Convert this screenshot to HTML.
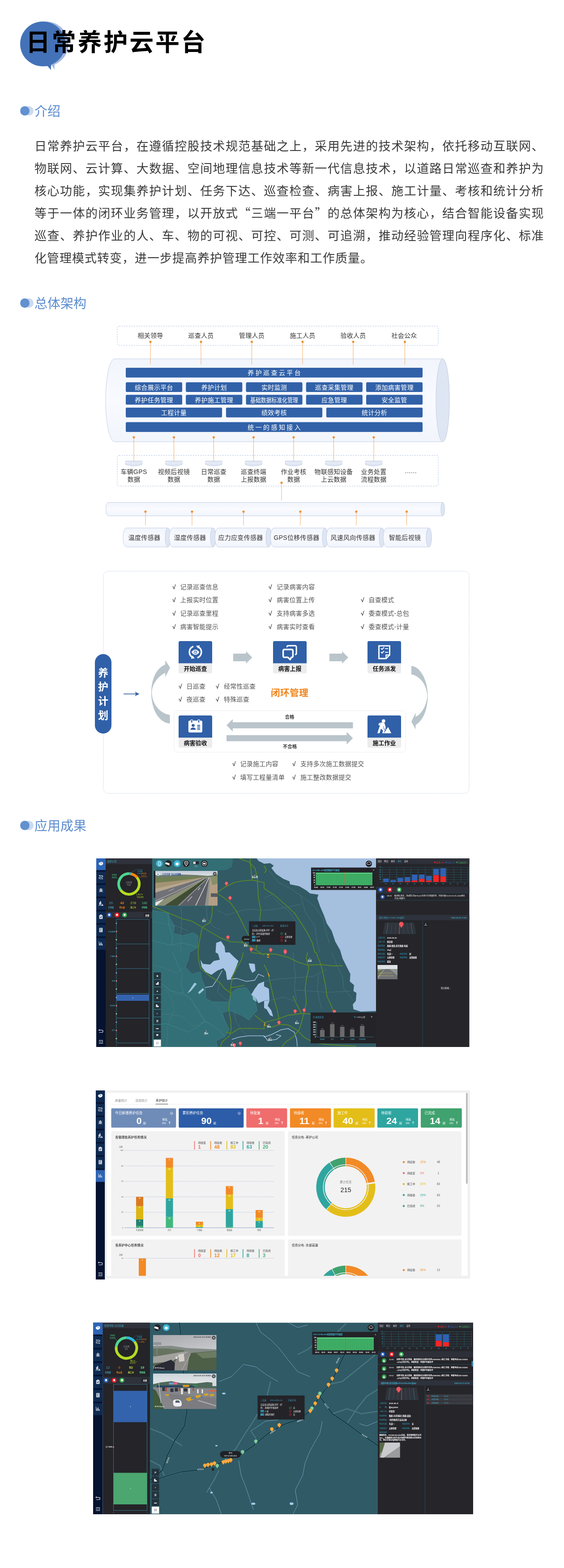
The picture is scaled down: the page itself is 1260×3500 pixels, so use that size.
<!DOCTYPE html>
<html lang="zh-CN">
<head>
<meta charset="utf-8">
<title>日常养护云平台</title>
<style>
*{box-sizing:border-box;margin:0;padding:0}
html,body{width:1260px;height:3500px;background:#fff;overflow:hidden}
body{position:relative;font-family:"Liberation Sans","Noto Sans CJK SC",sans-serif;color:#333}
svg{position:absolute;overflow:visible;will-change:transform}
#title,.sec,#intro{will-change:transform}
svg text{font-family:"Liberation Sans","Noto Sans CJK SC",sans-serif}
.abs{position:absolute}
#title{position:absolute;left:58px;top:55px;font-size:54px;line-height:80px;font-weight:700;color:#000;letter-spacing:3.8px;white-space:nowrap}
.sec{position:absolute;left:77px;font-size:29px;font-weight:400;line-height:40px;color:#5c8ccf;white-space:nowrap}
.sec i{position:absolute;left:-32px;top:8px;width:21px;height:21px;border-radius:50%;background:#6391cf}
.sec b{position:absolute;left:-23px;top:8px;width:21px;height:21px;border-radius:50%;background:#cbdaef}
.q{font-family:"Noto Sans CJK SC",sans-serif;line-height:0}
#intro{position:absolute;left:77px;top:301.5px;width:1138.4px;font-size:27px;letter-spacing:1px;line-height:50px;color:#3a3a3a;text-align:justify;font-weight:400}
</style>
</head>
<body>
<svg style="left:0;top:0" width="200" height="200" viewBox="0 0 200 200">
  <ellipse cx="102.5" cy="98" rx="50.5" ry="50" fill="#a3b9e0"/>
  <polygon points="114,143 122,141 121.6,155.5" fill="#a3b9e0"/>
  <ellipse cx="95.5" cy="98" rx="50.5" ry="50" fill="#4472b8"/>
  <polygon points="105,146 114,143 113.8,156.2" fill="#4472b8"/>
</svg>
<h1 id="title">日常养护云平台</h1>

<h2 class="sec" style="top:228.5px"><b></b><i></i>介绍</h2>
<p id="intro">日常养护云平台，在遵循控股技术规范基础之上，采用先进的技术架构，依托移动互联网、物联网、云计算、大数据、空间地理信息技术等新一代信息技术，以道路日常巡查和养护为核心功能，实现集养护计划、任务下达、巡查检查、病害上报、施工计量、考核和统计分析等于一体的闭环业务管理，以开放式<span class="q">“</span>三端一平台<span class="q">”</span>的总体架构为核心，结合智能设备实现巡查、养护作业的人、车、物的可视、可控、可测、可追溯，推动经验管理向程序化、标准化管理模式转变，进一步提高养护管理工作效率和工作质量。</p>

<h2 class="sec" style="top:657.5px"><b></b><i></i>总体架构</h2>
<h2 class="sec" style="top:1823.5px"><b></b><i></i>应用成果</h2>

<svg style="left:0;top:700px" width="1260" height="540" viewBox="0 700 1260 540">
<defs><linearGradient id="cg" x1="0" y1="0" x2="0" y2="1"><stop offset="0" stop-color="#f1f5fc"/><stop offset="0.5" stop-color="#f8faff"/><stop offset="1" stop-color="#f1f5fc"/></linearGradient></defs>
<rect x="262" y="728" width="717" height="43" rx="4" fill="#fff" stroke="#aebfe0" stroke-width="1" stroke-dasharray="3 2.5"/>
<path d="M256 801 H989 A15 92.5 0 0 1 989 986 H256 A20 92.5 0 0 1 256 801 Z" fill="url(#cg)" stroke="#c3cee4" stroke-width="1"/>
<ellipse cx="989" cy="893.5" rx="15" ry="92.5" fill="#dfe6f3" stroke="#c3cee4" stroke-width="1"/>
<text x="336" y="753.6" font-size="14" fill="#333" text-anchor="middle" letter-spacing="0.3" font-weight="400" >相关领导</text>
<line x1="336" y1="763" x2="336" y2="813.5" stroke="#f3ab68" stroke-width="1"/>
<circle cx="336" cy="763" r="2.6" fill="#ee9136"/>
<text x="449" y="753.6" font-size="14" fill="#333" text-anchor="middle" letter-spacing="0.3" font-weight="400" >巡查人员</text>
<line x1="449" y1="763" x2="449" y2="813.5" stroke="#f3ab68" stroke-width="1"/>
<circle cx="449" cy="763" r="2.6" fill="#ee9136"/>
<text x="562.5" y="753.6" font-size="14" fill="#333" text-anchor="middle" letter-spacing="0.3" font-weight="400" >管理人员</text>
<line x1="562.5" y1="763" x2="562.5" y2="813.5" stroke="#f3ab68" stroke-width="1"/>
<circle cx="562.5" cy="763" r="2.6" fill="#ee9136"/>
<text x="676" y="753.6" font-size="14" fill="#333" text-anchor="middle" letter-spacing="0.3" font-weight="400" >施工人员</text>
<line x1="676" y1="763" x2="676" y2="813.5" stroke="#f3ab68" stroke-width="1"/>
<circle cx="676" cy="763" r="2.6" fill="#ee9136"/>
<text x="789" y="753.6" font-size="14" fill="#333" text-anchor="middle" letter-spacing="0.3" font-weight="400" >验收人员</text>
<line x1="789" y1="763" x2="789" y2="813.5" stroke="#f3ab68" stroke-width="1"/>
<circle cx="789" cy="763" r="2.6" fill="#ee9136"/>
<text x="903" y="753.6" font-size="14" fill="#333" text-anchor="middle" letter-spacing="0.3" font-weight="400" >社会公众</text>
<line x1="904.5" y1="763" x2="904.5" y2="813.5" stroke="#f3ab68" stroke-width="1"/>
<circle cx="904.5" cy="763" r="2.6" fill="#ee9136"/>
<rect x="280.4" y="820.3" width="664.3" height="22.9" rx="3.2" fill="#3161a8" stroke="#fff" stroke-width="1"/>
<text x="614.2" y="837.2" font-size="14" fill="#fff" text-anchor="middle" letter-spacing="3.4" font-weight="400" >养护巡查云平台</text>
<rect x="280.4" y="852.8" width="127.2" height="22.7" rx="3.2" fill="#3161a8" stroke="#fff" stroke-width="1"/>
<text x="343.95" y="869.6" font-size="14" fill="#fff" text-anchor="middle" letter-spacing="0.3" font-weight="400" >综合展示平台</text>
<rect x="280.4" y="880.8" width="127.2" height="23.0" rx="3.2" fill="#3161a8" stroke="#fff" stroke-width="1"/>
<text x="343.95" y="897.75" font-size="14" fill="#fff" text-anchor="middle" letter-spacing="0.3" font-weight="400" >养护任务管理</text>
<rect x="414.7" y="852.8" width="127.2" height="22.7" rx="3.2" fill="#3161a8" stroke="#fff" stroke-width="1"/>
<text x="478.25" y="869.6" font-size="14" fill="#fff" text-anchor="middle" letter-spacing="0.3" font-weight="400" >养护计划</text>
<rect x="414.7" y="880.8" width="127.2" height="23.0" rx="3.2" fill="#3161a8" stroke="#fff" stroke-width="1"/>
<text x="478.25" y="897.75" font-size="14" fill="#fff" text-anchor="middle" letter-spacing="0.3" font-weight="400" >养护施工管理</text>
<rect x="549.0" y="852.8" width="127.1" height="22.7" rx="3.2" fill="#3161a8" stroke="#fff" stroke-width="1"/>
<text x="612.5" y="869.6" font-size="14" fill="#fff" text-anchor="middle" letter-spacing="0.3" font-weight="400" >实时监测</text>
<rect x="549.0" y="880.8" width="127.1" height="23.0" rx="3.2" fill="#3161a8" stroke="#fff" stroke-width="1"/>
<text x="612.5" y="897.75" font-size="14" fill="#fff" text-anchor="middle" letter-spacing="0" font-weight="400" textLength="107" lengthAdjust="spacingAndGlyphs">基础数据标准化管理</text>
<rect x="683.2" y="852.8" width="127.2" height="22.7" rx="3.2" fill="#3161a8" stroke="#fff" stroke-width="1"/>
<text x="746.75" y="869.6" font-size="14" fill="#fff" text-anchor="middle" letter-spacing="0.3" font-weight="400" >巡查采集管理</text>
<rect x="683.2" y="880.8" width="127.2" height="23.0" rx="3.2" fill="#3161a8" stroke="#fff" stroke-width="1"/>
<text x="746.75" y="897.75" font-size="14" fill="#fff" text-anchor="middle" letter-spacing="0.3" font-weight="400" >应急管理</text>
<rect x="817.5" y="852.8" width="127.2" height="22.7" rx="3.2" fill="#3161a8" stroke="#fff" stroke-width="1"/>
<text x="881.05" y="869.6" font-size="14" fill="#fff" text-anchor="middle" letter-spacing="0.3" font-weight="400" >添加病害管理</text>
<rect x="817.5" y="880.8" width="127.2" height="23.0" rx="3.2" fill="#3161a8" stroke="#fff" stroke-width="1"/>
<text x="881.05" y="897.75" font-size="14" fill="#fff" text-anchor="middle" letter-spacing="0.3" font-weight="400" >安全监管</text>
<rect x="280.4" y="909.3" width="216.3" height="22.9" rx="3.2" fill="#3161a8" stroke="#fff" stroke-width="1"/>
<text x="388.5" y="926.2" font-size="14" fill="#fff" text-anchor="middle" letter-spacing="0.3" font-weight="400" >工程计量</text>
<rect x="504.4" y="909.3" width="216.3" height="22.9" rx="3.2" fill="#3161a8" stroke="#fff" stroke-width="1"/>
<text x="612.5" y="926.2" font-size="14" fill="#fff" text-anchor="middle" letter-spacing="0.3" font-weight="400" >绩效考核</text>
<rect x="728.4" y="909.3" width="216.3" height="22.9" rx="3.2" fill="#3161a8" stroke="#fff" stroke-width="1"/>
<text x="836.5" y="926.2" font-size="14" fill="#fff" text-anchor="middle" letter-spacing="0.3" font-weight="400" >统计分析</text>
<rect x="280.4" y="941.8" width="664.3" height="23.0" rx="3.2" fill="#3161a8" stroke="#fff" stroke-width="1"/>
<text x="614.2" y="958.75" font-size="14" fill="#fff" text-anchor="middle" letter-spacing="3.4" font-weight="400" >统一的感知接入</text>
<rect x="262" y="1016.5" width="717" height="68.5" rx="4" fill="#fff" stroke="#aebfe0" stroke-width="1" stroke-dasharray="3 2.5"/>
<line x1="299" y1="976" x2="299" y2="1029" stroke="#f3ab68" stroke-width="1"/>
<circle cx="299" cy="976" r="2.6" fill="#ee9136"/>
<path d="M280.5 1029 H317.5 V1037 Q299 1043.5 280.5 1037 Z" fill="#dfe6f3" stroke="#b9c7e0" stroke-width="0.8"/>
<path d="M280.5 1031.5 Q299 1037 317.5 1031.5" fill="none" stroke="#f4f7fc" stroke-width="1"/>
<text x="299" y="1057.6" font-size="14" fill="#333" text-anchor="middle" letter-spacing="0.3" font-weight="400" >车辆GPS</text>
<text x="299" y="1074.8" font-size="14" fill="#333" text-anchor="middle" letter-spacing="0.3" font-weight="400" >数据</text>
<line x1="388.5" y1="976" x2="388.5" y2="1029" stroke="#f3ab68" stroke-width="1"/>
<circle cx="388.5" cy="976" r="2.6" fill="#ee9136"/>
<path d="M370.0 1029 H407.0 V1037 Q388.5 1043.5 370.0 1037 Z" fill="#dfe6f3" stroke="#b9c7e0" stroke-width="0.8"/>
<path d="M370.0 1031.5 Q388.5 1037 407.0 1031.5" fill="none" stroke="#f4f7fc" stroke-width="1"/>
<text x="388.5" y="1057.6" font-size="14" fill="#333" text-anchor="middle" letter-spacing="0.3" font-weight="400" >视频后视镜</text>
<text x="388.5" y="1074.8" font-size="14" fill="#333" text-anchor="middle" letter-spacing="0.3" font-weight="400" >数据</text>
<line x1="477.5" y1="976" x2="477.5" y2="1029" stroke="#f3ab68" stroke-width="1"/>
<circle cx="477.5" cy="976" r="2.6" fill="#ee9136"/>
<path d="M459.0 1029 H496.0 V1037 Q477.5 1043.5 459.0 1037 Z" fill="#dfe6f3" stroke="#b9c7e0" stroke-width="0.8"/>
<path d="M459.0 1031.5 Q477.5 1037 496.0 1031.5" fill="none" stroke="#f4f7fc" stroke-width="1"/>
<text x="477.5" y="1057.6" font-size="14" fill="#333" text-anchor="middle" letter-spacing="0.3" font-weight="400" >日常巡查</text>
<text x="477.5" y="1074.8" font-size="14" fill="#333" text-anchor="middle" letter-spacing="0.3" font-weight="400" >数据</text>
<line x1="566.5" y1="976" x2="566.5" y2="1029" stroke="#f3ab68" stroke-width="1"/>
<circle cx="566.5" cy="976" r="2.6" fill="#ee9136"/>
<path d="M548.0 1029 H585.0 V1037 Q566.5 1043.5 548.0 1037 Z" fill="#dfe6f3" stroke="#b9c7e0" stroke-width="0.8"/>
<path d="M548.0 1031.5 Q566.5 1037 585.0 1031.5" fill="none" stroke="#f4f7fc" stroke-width="1"/>
<text x="566.5" y="1057.6" font-size="14" fill="#333" text-anchor="middle" letter-spacing="0.3" font-weight="400" >巡查终端</text>
<text x="566.5" y="1074.8" font-size="14" fill="#333" text-anchor="middle" letter-spacing="0.3" font-weight="400" >上报数据</text>
<line x1="656" y1="976" x2="656" y2="1029" stroke="#f3ab68" stroke-width="1"/>
<circle cx="656" cy="976" r="2.6" fill="#ee9136"/>
<path d="M637.5 1029 H674.5 V1037 Q656 1043.5 637.5 1037 Z" fill="#dfe6f3" stroke="#b9c7e0" stroke-width="0.8"/>
<path d="M637.5 1031.5 Q656 1037 674.5 1031.5" fill="none" stroke="#f4f7fc" stroke-width="1"/>
<text x="656" y="1057.6" font-size="14" fill="#333" text-anchor="middle" letter-spacing="0.3" font-weight="400" >作业考核</text>
<text x="656" y="1074.8" font-size="14" fill="#333" text-anchor="middle" letter-spacing="0.3" font-weight="400" >数据</text>
<line x1="745.5" y1="976" x2="745.5" y2="1029" stroke="#f3ab68" stroke-width="1"/>
<circle cx="745.5" cy="976" r="2.6" fill="#ee9136"/>
<path d="M727.0 1029 H764.0 V1037 Q745.5 1043.5 727.0 1037 Z" fill="#dfe6f3" stroke="#b9c7e0" stroke-width="0.8"/>
<path d="M727.0 1031.5 Q745.5 1037 764.0 1031.5" fill="none" stroke="#f4f7fc" stroke-width="1"/>
<text x="745.5" y="1057.6" font-size="14" fill="#333" text-anchor="middle" letter-spacing="0.3" font-weight="400" >物联感知设备</text>
<text x="745.5" y="1074.8" font-size="14" fill="#333" text-anchor="middle" letter-spacing="0.3" font-weight="400" >上云数据</text>
<line x1="835" y1="976" x2="835" y2="1029" stroke="#f3ab68" stroke-width="1"/>
<circle cx="835" cy="976" r="2.6" fill="#ee9136"/>
<path d="M816.5 1029 H853.5 V1037 Q835 1043.5 816.5 1037 Z" fill="#dfe6f3" stroke="#b9c7e0" stroke-width="0.8"/>
<path d="M816.5 1031.5 Q835 1037 853.5 1031.5" fill="none" stroke="#f4f7fc" stroke-width="1"/>
<text x="835" y="1057.6" font-size="14" fill="#333" text-anchor="middle" letter-spacing="0.3" font-weight="400" >业务处置</text>
<text x="835" y="1074.8" font-size="14" fill="#333" text-anchor="middle" letter-spacing="0.3" font-weight="400" >流程数据</text>
<text x="918" y="1056" font-size="14" fill="#333" text-anchor="middle" letter-spacing="0.5" font-weight="400" >......</text>
<line x1="629" y1="1077.5" x2="629" y2="1117.5" stroke="#f3ab68" stroke-width="1"/>
<circle cx="629" cy="1077.5" r="2.6" fill="#ee9136"/>
<path d="M242 1121.5 H989 A4 15 0 0 1 989 1151.5 H242 A5.5 15 0 0 1 242 1121.5 Z" fill="url(#cg)" stroke="#c3cee4" stroke-width="1"/>
<ellipse cx="989" cy="1136.5" rx="4" ry="15" fill="#dfe6f3" stroke="#c3cee4" stroke-width="1"/>
<line x1="325" y1="1142" x2="325" y2="1172.5" stroke="#f3ab68" stroke-width="1"/>
<circle cx="325" cy="1142" r="2.6" fill="#ee9136"/>
<line x1="429" y1="1142" x2="429" y2="1172.5" stroke="#f3ab68" stroke-width="1"/>
<circle cx="429" cy="1142" r="2.6" fill="#ee9136"/>
<line x1="544" y1="1142" x2="544" y2="1172.5" stroke="#f3ab68" stroke-width="1"/>
<circle cx="544" cy="1142" r="2.6" fill="#ee9136"/>
<line x1="671" y1="1142" x2="671" y2="1172.5" stroke="#f3ab68" stroke-width="1"/>
<circle cx="671" cy="1142" r="2.6" fill="#ee9136"/>
<line x1="796" y1="1142" x2="796" y2="1172.5" stroke="#f3ab68" stroke-width="1"/>
<circle cx="796" cy="1142" r="2.6" fill="#ee9136"/>
<line x1="908.5" y1="1142" x2="908.5" y2="1172.5" stroke="#f3ab68" stroke-width="1"/>
<circle cx="908.5" cy="1142" r="2.6" fill="#ee9136"/>
<path d="M283 1178.5 H375 A6 21.25 0 0 1 375 1221 H283 A8 21.25 0 0 1 283 1178.5 Z" fill="url(#cg)" stroke="#c3cee4" stroke-width="1"/>
<ellipse cx="375" cy="1199.75" rx="6" ry="21.25" fill="#dfe6f3" stroke="#c3cee4" stroke-width="1"/>
<text x="322.5" y="1204.8" font-size="14" fill="#333" text-anchor="middle" letter-spacing="0.3" font-weight="400" >温度传感器</text>
<path d="M386 1178.5 H476 A6 21.25 0 0 1 476 1221 H386 A8 21.25 0 0 1 386 1178.5 Z" fill="url(#cg)" stroke="#c3cee4" stroke-width="1"/>
<ellipse cx="476" cy="1199.75" rx="6" ry="21.25" fill="#dfe6f3" stroke="#c3cee4" stroke-width="1"/>
<text x="424.5" y="1204.8" font-size="14" fill="#333" text-anchor="middle" letter-spacing="0.3" font-weight="400" >湿度传感器</text>
<path d="M488 1178.5 H600 A6 21.25 0 0 1 600 1221 H488 A8 21.25 0 0 1 488 1178.5 Z" fill="url(#cg)" stroke="#c3cee4" stroke-width="1"/>
<ellipse cx="600" cy="1199.75" rx="6" ry="21.25" fill="#dfe6f3" stroke="#c3cee4" stroke-width="1"/>
<text x="537.5" y="1204.8" font-size="14" fill="#333" text-anchor="middle" letter-spacing="0.3" font-weight="400" >应力应变传感器</text>
<path d="M612 1178.5 H726 A6 21.25 0 0 1 726 1221 H612 A8 21.25 0 0 1 612 1178.5 Z" fill="url(#cg)" stroke="#c3cee4" stroke-width="1"/>
<ellipse cx="726" cy="1199.75" rx="6" ry="21.25" fill="#dfe6f3" stroke="#c3cee4" stroke-width="1"/>
<text x="662.5" y="1204.8" font-size="14" fill="#333" text-anchor="middle" letter-spacing="0.3" font-weight="400" >GPS位移传感器</text>
<path d="M737 1178.5 H853 A6 21.25 0 0 1 853 1221 H737 A8 21.25 0 0 1 737 1178.5 Z" fill="url(#cg)" stroke="#c3cee4" stroke-width="1"/>
<ellipse cx="853" cy="1199.75" rx="6" ry="21.25" fill="#dfe6f3" stroke="#c3cee4" stroke-width="1"/>
<text x="788.5" y="1204.8" font-size="14" fill="#333" text-anchor="middle" letter-spacing="0.3" font-weight="400" >风速风向传感器</text>
<path d="M864 1178.5 H958 A6 21.25 0 0 1 958 1221 H864 A8 21.25 0 0 1 864 1178.5 Z" fill="url(#cg)" stroke="#c3cee4" stroke-width="1"/>
<ellipse cx="958" cy="1199.75" rx="6" ry="21.25" fill="#dfe6f3" stroke="#c3cee4" stroke-width="1"/>
<text x="904.5" y="1204.8" font-size="14" fill="#333" text-anchor="middle" letter-spacing="0.3" font-weight="400" >智能后视镜</text>
</svg>

<svg style="left:0;top:1250px" width="1260" height="540" viewBox="0 1250 1260 540">
<rect x="231" y="1275" width="817" height="496" rx="11" fill="#fff" stroke="#a9bcdc" stroke-width="1" stroke-dasharray="1.5 2"/>
<text x="389" y="1314.5" font-size="13.5" fill="#444" text-anchor="middle" letter-spacing="0" font-weight="700" >√</text>
<text x="402.5" y="1314.5" font-size="14" fill="#555" text-anchor="start" letter-spacing="0.25" font-weight="400" >记录巡查信息</text>
<text x="389" y="1344.3" font-size="13.5" fill="#444" text-anchor="middle" letter-spacing="0" font-weight="700" >√</text>
<text x="402.5" y="1344.3" font-size="14" fill="#555" text-anchor="start" letter-spacing="0.25" font-weight="400" >上报实时位置</text>
<text x="389" y="1374.1" font-size="13.5" fill="#444" text-anchor="middle" letter-spacing="0" font-weight="700" >√</text>
<text x="402.5" y="1374.1" font-size="14" fill="#555" text-anchor="start" letter-spacing="0.25" font-weight="400" >记录巡查里程</text>
<text x="389" y="1403.9" font-size="13.5" fill="#444" text-anchor="middle" letter-spacing="0" font-weight="700" >√</text>
<text x="402.5" y="1403.9" font-size="14" fill="#555" text-anchor="start" letter-spacing="0.25" font-weight="400" >病害智能提示</text>
<text x="604" y="1314.5" font-size="13.5" fill="#444" text-anchor="middle" letter-spacing="0" font-weight="700" >√</text>
<text x="618" y="1314.5" font-size="14" fill="#555" text-anchor="start" letter-spacing="0.25" font-weight="400" >记录病害内容</text>
<text x="604" y="1344.3" font-size="13.5" fill="#444" text-anchor="middle" letter-spacing="0" font-weight="700" >√</text>
<text x="618" y="1344.3" font-size="14" fill="#555" text-anchor="start" letter-spacing="0.25" font-weight="400" >病害位置上传</text>
<text x="604" y="1374.1" font-size="13.5" fill="#444" text-anchor="middle" letter-spacing="0" font-weight="700" >√</text>
<text x="618" y="1374.1" font-size="14" fill="#555" text-anchor="start" letter-spacing="0.25" font-weight="400" >支持病害多选</text>
<text x="604" y="1403.9" font-size="13.5" fill="#444" text-anchor="middle" letter-spacing="0" font-weight="700" >√</text>
<text x="618" y="1403.9" font-size="14" fill="#555" text-anchor="start" letter-spacing="0.25" font-weight="400" >病害实时查看</text>
<text x="810" y="1344.3" font-size="13.5" fill="#444" text-anchor="middle" letter-spacing="0" font-weight="700" >√</text>
<text x="823.5" y="1344.3" font-size="14" fill="#555" text-anchor="start" letter-spacing="0.25" font-weight="400" >自查模式</text>
<text x="810" y="1374.1" font-size="13.5" fill="#444" text-anchor="middle" letter-spacing="0" font-weight="700" >√</text>
<text x="823.5" y="1374.1" font-size="14" fill="#555" text-anchor="start" letter-spacing="0.25" font-weight="400" >委查模式-总包</text>
<text x="810" y="1403.8999999999999" font-size="13.5" fill="#444" text-anchor="middle" letter-spacing="0" font-weight="700" >√</text>
<text x="823.5" y="1403.8999999999999" font-size="14" fill="#555" text-anchor="start" letter-spacing="0.25" font-weight="400" >委查模式-计量</text>
<text x="403" y="1536.5" font-size="13.5" fill="#444" text-anchor="middle" letter-spacing="0" font-weight="700" >√</text>
<text x="416.5" y="1536.5" font-size="14" fill="#555" text-anchor="start" letter-spacing="0.25" font-weight="400" >日巡查</text>
<text x="403" y="1566" font-size="13.5" fill="#444" text-anchor="middle" letter-spacing="0" font-weight="700" >√</text>
<text x="416.5" y="1566" font-size="14" fill="#555" text-anchor="start" letter-spacing="0.25" font-weight="400" >夜巡查</text>
<text x="486" y="1536.5" font-size="13.5" fill="#444" text-anchor="middle" letter-spacing="0" font-weight="700" >√</text>
<text x="500" y="1536.5" font-size="14" fill="#555" text-anchor="start" letter-spacing="0.25" font-weight="400" >经常性巡查</text>
<text x="486" y="1566" font-size="13.5" fill="#444" text-anchor="middle" letter-spacing="0" font-weight="700" >√</text>
<text x="500" y="1566" font-size="14" fill="#555" text-anchor="start" letter-spacing="0.25" font-weight="400" >特殊巡查</text>
<text x="523" y="1710" font-size="13.5" fill="#444" text-anchor="middle" letter-spacing="0" font-weight="700" >√</text>
<text x="536.5" y="1710" font-size="14" fill="#555" text-anchor="start" letter-spacing="0.25" font-weight="400" >记录施工内容</text>
<text x="523" y="1739.5" font-size="13.5" fill="#444" text-anchor="middle" letter-spacing="0" font-weight="700" >√</text>
<text x="536.5" y="1739.5" font-size="14" fill="#555" text-anchor="start" letter-spacing="0.25" font-weight="400" >填写工程量清单</text>
<text x="657" y="1710" font-size="13.5" fill="#444" text-anchor="middle" letter-spacing="0" font-weight="700" >√</text>
<text x="671" y="1710" font-size="14" fill="#555" text-anchor="start" letter-spacing="0.25" font-weight="400" >支持多次施工数据提交</text>
<text x="657" y="1739.5" font-size="13.5" fill="#444" text-anchor="middle" letter-spacing="0" font-weight="700" >√</text>
<text x="671" y="1739.5" font-size="14" fill="#555" text-anchor="start" letter-spacing="0.25" font-weight="400" >施工整改数据提交</text>
<rect x="389" y="1586.5" width="517" height="92.5" rx="8" fill="#fff" stroke="#cfd3d8" stroke-width="1" stroke-dasharray="1.5 2"/>
<rect x="399" y="1431" width="75" height="72" rx="3.5" fill="#ececec"/>
<path d="M399 1480.5 V1434.5 a3.5 3.5 0 0 1 3.5 -3.5 H470.5 a3.5 3.5 0 0 1 3.5 3.5 V1480.5 Z" fill="#3060a8"/>
<g transform="translate(436.5 1455.5)"><g fill="none" stroke="#fff" stroke-width="3.4"><path d="M-4.6 -12.6 A13.3 13.3 0 0 0 -7.4 11"/><path d="M4.6 12.6 A13.3 13.3 0 0 0 7.4 -11"/></g>
<path d="M-6.3 7.8 L-1.6 14 L-10 15 Z M6.3 -7.8 L1.6 -14 L10 -15 Z" fill="#fff"/>
<path d="M-8.9 0.3 Q0 -11.5 8.9 0.3 Q0 12 -8.9 0.3 Z" fill="#fff"/><circle cy="0.3" r="3.7" fill="#3060a8"/><circle cy="0.3" r="2.5" fill="#fff"/><circle cx="0.7" cy="-0.3" r="1" fill="#3060a8"/></g>
<text x="436.5" y="1496.7" font-size="13" fill="#111" text-anchor="middle" letter-spacing="0" font-weight="700" >开始巡查</text>
<rect x="610" y="1431" width="75" height="72" rx="3.5" fill="#ececec"/>
<path d="M610 1480.5 V1434.5 a3.5 3.5 0 0 1 3.5 -3.5 H681.5 a3.5 3.5 0 0 1 3.5 3.5 V1480.5 Z" fill="#3060a8"/>
<g transform="translate(647.5 1455.5)"><g fill="none" stroke="#fff" stroke-linejoin="round" stroke-linecap="round"><path d="M-6.3 -12 Q-6 -14.2 -3.5 -14.2 H11.6 a3 3 0 0 1 3 3 V3 Q14.6 5.3 12.6 5.4" stroke-width="3"/><path d="M-12 -5.800 H4 a2.900 2.900 0 0 1 2.900 2.900 V8.900 a2.900 2.900 0 0 1 -2.900 2.900 H3.300 L0.800 16.700 L-4.500 11.800 H-12 a2.900 2.900 0 0 1 -2.900 -2.900 V-2.900 a2.900 2.900 0 0 1 2.900 -2.900 Z" stroke-width="3.4"/></g></g>
<text x="647.5" y="1496.7" font-size="13" fill="#111" text-anchor="middle" letter-spacing="0" font-weight="700" >病害上报</text>
<rect x="821" y="1431" width="75" height="72" rx="3.5" fill="#ececec"/>
<path d="M821 1480.5 V1434.5 a3.5 3.5 0 0 1 3.5 -3.5 H892.5 a3.5 3.5 0 0 1 3.5 3.5 V1480.5 Z" fill="#3060a8"/>
<g transform="translate(858.5 1455.5)"><path d="M-12 -13.900 H12 V6.500 L3.800 14.500 H-12 Z" fill="none" stroke="#fff" stroke-width="2.900" stroke-linejoin="miter"/><path d="M4 14 V6.500 H12" fill="none" stroke="#fff" stroke-width="2.400"/>
<g stroke="#fff" stroke-width="2" fill="none"><path d="M-7.500 -8.500 l2.600 2.600 l4.400 -4.800 M-7.500 -0.300 l2.600 2.600 l4.400 -4.800 M1.800 -7.700 H8.400 M1.800 0.500 H8.400"/></g></g>
<text x="858.5" y="1496.7" font-size="13" fill="#111" text-anchor="middle" letter-spacing="0" font-weight="700" >任务派发</text>
<rect x="399" y="1597" width="75" height="72" rx="3.5" fill="#ececec"/>
<path d="M399 1646.5 V1600.5 a3.5 3.5 0 0 1 3.5 -3.5 H470.5 a3.5 3.5 0 0 1 3.5 3.5 V1646.5 Z" fill="#3060a8"/>
<g transform="translate(436.5 1621.5)"><rect x="-15.600" y="-13" width="31" height="26.600" rx="3" fill="#fff"/><rect x="-10" y="-14.800" width="3.800" height="6.600" rx="0.800" fill="#3060a8" stroke="#fff" stroke-width="1.200"/><rect x="5.600" y="-14.800" width="3.800" height="6.600" rx="0.800" fill="#3060a8" stroke="#fff" stroke-width="1.200"/>
<circle cx="-5" cy="-2.200" r="3.300" fill="#3060a8"/><path d="M-10.900 7.600 v-1 a5.800 4 0 0 1 11.600 0 v1 Z" fill="#3060a8"/><g stroke="#3060a8" stroke-width="1.800"><path d="M4 -2.500 H10.700 M4 0.700 H10.700 M4 3.800 H10.700 M4 6.900 H10.700"/></g></g>
<text x="436.5" y="1662.7" font-size="13" fill="#111" text-anchor="middle" letter-spacing="0" font-weight="700" >病害验收</text>
<rect x="821" y="1597" width="75" height="72" rx="3.5" fill="#ececec"/>
<path d="M821 1646.5 V1600.5 a3.5 3.5 0 0 1 3.5 -3.5 H892.5 a3.5 3.5 0 0 1 3.5 3.5 V1646.5 Z" fill="#3060a8"/>
<g transform="translate(858.5 1621.5)"><circle cx="-1.700" cy="-12.200" r="3.900" fill="#fff"/><path d="M-13.500 -4.500 L-10.500 -8 L-4 -9 L0.500 -7.500 L3.500 2.500 L1 4.500 L-2.300 -0.500 L-3.300 3.500 L1.300 7.800 L-0.800 15.200 H-4.500 L-2.800 9 L-7.500 5 L-10.500 15.200 H-15.500 L-11 1.500 L-9.500 -1.500 Z" fill="#fff"/><path d="M-0.800 15.200 L8.400 1.200 L15.700 15.200 Z" fill="#fff"/><path d="M-12 -4 L3.500 6.500" stroke="#fff" stroke-width="1.600"/><path d="M-9.500 -5.500 l2 -1.300 l-1 2.600 z" fill="#3060a8"/></g>
<text x="858.5" y="1662.7" font-size="13" fill="#111" text-anchor="middle" letter-spacing="0" font-weight="700" >施工作业</text>
<path d="M521 1459.0 H549.5 V1453.75 L563.5 1467.5 L549.5 1481.25 V1476.0 H521 Z" fill="#b9c4cb"/>
<path d="M736 1459.0 H764 V1453.75 L778 1467.5 L764 1481.25 V1476.0 H736 Z" fill="#b9c4cb"/>
<path d="M788.5 1612.25 H520 V1605.25 L506 1619 L520 1632.75 V1625.75 H788.5 Z" fill="#b9c4cb"/>
<path d="M506 1640.95 H774.5 V1633.95 L788.5 1647.7 L774.5 1661.45 V1654.45 H506 Z" fill="#b9c4cb"/>
<text x="647" y="1603.8" font-size="10.5" fill="#333" text-anchor="middle" letter-spacing="0" font-weight="700" >合格</text>
<text x="647.5" y="1669.8" font-size="10.5" fill="#333" text-anchor="middle" letter-spacing="0" font-weight="700" >不合格</text>
<text x="605" y="1553.5" font-size="20.5" fill="#f0841a" text-anchor="start" letter-spacing="0.6" font-weight="700" >闭环管理</text>
<rect x="212" y="1460" width="37" height="177.5" rx="18.5" fill="#3060a8"/>
<text x="230.5" y="1509.8" font-size="23" fill="#fff" text-anchor="middle" letter-spacing="0" font-weight="700" >养</text>
<text x="230.5" y="1541.3999999999999" font-size="23" fill="#fff" text-anchor="middle" letter-spacing="0" font-weight="700" >护</text>
<text x="230.5" y="1573.0" font-size="23" fill="#fff" text-anchor="middle" letter-spacing="0" font-weight="700" >计</text>
<text x="230.5" y="1604.6" font-size="23" fill="#fff" text-anchor="middle" letter-spacing="0" font-weight="700" >划</text>
<path d="M276 1549 H308" stroke="#3060a8" stroke-width="1.6" fill="none"/><path d="M311.500 1549 L301 1544 L304 1549 L301 1554 Z" fill="#3060a8"/>
<path d="M379.5 1615.3 C352 1612 338 1580 338 1546.3 C338 1515 350 1491 369.2 1483.3 L369.2 1473.8 L380 1490.2 L369.2 1511.3 L369.2 1501.8 C352 1510 339.5 1528 339.2 1546.3 C339.5 1566 352 1591 379.5 1596 Z" fill="#b9c4cb"/>
<path d="M919 1486.4 C938 1487 955.6 1518 955.6 1552 C955.6 1585 945 1608 928.5 1618.4 L928.5 1627.9 L919 1611 L928.5 1590.8 L928.5 1600.3 C945 1592 954 1570 954.5 1552 C953 1530 940 1509 919 1505.5 Z" fill="#b9c4cb"/>
</svg>

<svg style="left:0;top:1900px" width="1260" height="450" viewBox="0 1900 1260 450">
<defs><clipPath id="m1"><rect x="340" y="1916" width="500" height="421"/></clipPath><clipPath id="c1"><rect x="347" y="1944" width="139" height="77.6"/></clipPath></defs>
<rect x="340" y="1916" width="500" height="421" fill="#315a65"/>
<g clip-path="url(#m1)">
<polygon points="340.0,1916.0 520.7,1916.0 518.0,1934.9 507.2,1941.6 485.6,1943.0 485.6,2022.5 340.0,2022.5" fill="#336e75"/>
<polygon points="340.0,2032.0 356.2,2034.7 375.1,2037.4 380.5,2050.8 389.9,2067.0 387.2,2083.2 407.4,2088.6 431.7,2081.9 442.5,2088.6 441.1,2115.6 423.6,2126.1 420.9,2142.2 414.2,2158.4 429.0,2174.5 447.9,2169.1 450.6,2185.3 458.7,2204.2 460.0,2228.5 474.8,2236.6 512.6,2236.6 518.0,2215.0 528.8,2206.9 550.4,2204.2 569.2,2231.2 574.6,2255.4 555.7,2277.0 539.6,2266.2 512.6,2255.4 496.4,2260.8 501.8,2277.0 512.6,2298.6 501.8,2314.8 482.9,2322.9 485.6,2336.1 340.0,2336.1" fill="#336f76" stroke="#3d8a92" stroke-width="0.7"/>
<polygon points="573.3,1916.0 577.3,1921.4 590.0,1928.1 603.5,1926.8 611.6,1932.2 606.2,1937.6 617.0,1951.1 633.1,1961.8 646.6,1967.2 648.0,1974.0 668.2,1978.0 684.4,1987.5 692.5,1994.2 711.4,1996.9 708.7,2005.0 715.4,2023.9 723.5,2042.8 730.2,2061.6 741.0,2077.8 749.1,2102.1 759.9,2121.0 761.3,2126.0 765.3,2139.5 776.1,2161.1 782.8,2174.5 781.5,2190.7 790.9,2198.8 789.6,2212.3 796.3,2216.3 795.0,2233.9 788.2,2242.0 789.6,2252.8 805.7,2258.1 840.0,2256.8 840,1916" fill="#a5bfdf"/>
<polygon points="450.6,2158.4 447.9,2142.2 453.3,2151.6 469.4,2153.0 477.5,2144.9 491.0,2142.2 487.0,2128.7 481.6,2126.1 482.9,2104.8 493.7,2100.7 501.8,2112.9 503.2,2126.1 512.6,2126.0 523.4,2136.8 532.8,2144.9 528.8,2155.7 523.4,2169.1 515.3,2185.3 507.2,2186.7 504.5,2169.1 499.1,2161.1 485.6,2166.5 472.1,2175.9 458.7,2169.1" fill="#a9c5e5"/>
<polygon points="555.7,2150.3 569.2,2151.6 570.6,2166.5 563.8,2171.8 558.4,2161.1" fill="#a9c5e5"/>
<polygon points="577.3,2196.1 590.0,2190.7 590.0,2201.5 600.8,2206.9 602.1,2233.9 598.1,2244.7 606.2,2255.4 610.2,2268.9 603.5,2266.2 595.4,2252.8 590.0,2250.1 590.0,2233.9 577.3,2239.3 571.9,2228.5 561.1,2220.4 569.2,2206.9" fill="#a9c5e5"/>
<polygon points="563.8,2220.4 571.9,2228.5 573.3,2236.6 565.2,2231.2" fill="#86b8c6"/>
<polygon points="418.2,2217.7 434.4,2193.4 439.8,2196.1 426.3,2212.3" fill="#9cc4dc"/>
<polygon points="442.5,2215.0 453.3,2205.6 456.0,2209.6 445.2,2219.0" fill="#9cc4dc"/>
<polyline points="507.2,2186.7 528.8,2184.0 550.4,2190.7 569.2,2188.0 577.3,2174.5 590.0,2179.9" fill="none" stroke="#b4cde8" stroke-width="1.3" stroke-linejoin="round"/>
<polyline points="458.7,2204.2 474.8,2201.5 485.6,2185.3 496.4,2166.5" fill="none" stroke="#b4cde8" stroke-width="1.3" stroke-linejoin="round"/>
<polyline points="518.0,2320.2 534.2,2314.8 555.7,2312.1 590.0,2312.1 590.0,2314.8 606.2,2309.4 627.8,2298.6 643.9,2295.9 657.4,2304.0 662.8,2320.2 664.2,2336.1" fill="none" stroke="#b4cde8" stroke-width="1.3" stroke-linejoin="round"/>
<polyline points="590.0,2312.1 598.1,2322.9 617.0,2320.2 627.8,2312.1 617.0,2309.4" fill="none" stroke="#b4cde8" stroke-width="1.3" stroke-linejoin="round"/>
<polyline points="404.7,2023.9 406.1,2056.2 403.4,2088.6 404.7,2126.1" fill="none" stroke="#527c85" stroke-width="0.8" stroke-linejoin="round" opacity="0.85"/>
<polyline points="340.0,2056.2 367.0,2061.6 393.9,2067.0 420.9,2077.8" fill="none" stroke="#527c85" stroke-width="0.8" stroke-linejoin="round" opacity="0.85"/>
<polyline points="485.6,2032.0 507.2,2042.8 528.8,2034.7 555.7,2029.3 590.0,2032.0" fill="none" stroke="#527c85" stroke-width="0.8" stroke-linejoin="round" opacity="0.85"/>
<polyline points="461.4,2022.5 462.7,2050.8 474.8,2067.0 491.0,2075.1" fill="none" stroke="#527c85" stroke-width="0.8" stroke-linejoin="round" opacity="0.85"/>
<polyline points="590.0,2005.0 606.2,1996.9 625.1,2018.5 643.9,2032.0 660.1,2056.2 654.7,2077.8" fill="none" stroke="#527c85" stroke-width="0.8" stroke-linejoin="round" opacity="0.85"/>
<polyline points="600.8,1943.0 622.4,1969.9 649.3,1983.4 679.0,2005.0 703.3,2023.9 722.1,2050.8 727.5,2077.8 735.6,2104.8" fill="none" stroke="#527c85" stroke-width="0.8" stroke-linejoin="round" opacity="0.85"/>
<polyline points="590.0,2032.0 617.0,2029.3 643.9,2023.9 670.9,2018.5" fill="none" stroke="#527c85" stroke-width="0.8" stroke-linejoin="round" opacity="0.85"/>
<polyline points="670.9,1996.9 681.7,2034.7 703.3,2067.0 708.7,2104.8 714.1,2126.1" fill="none" stroke="#527c85" stroke-width="0.8" stroke-linejoin="round" opacity="0.85"/>
<polyline points="654.7,2126.0 657.4,2153.0 660.1,2179.9 657.4,2206.9 662.8,2233.9" fill="none" stroke="#527c85" stroke-width="0.8" stroke-linejoin="round" opacity="0.85"/>
<polyline points="590.0,2190.7 622.4,2185.3 657.4,2182.6 697.9,2179.9 730.2,2163.8" fill="none" stroke="#527c85" stroke-width="0.8" stroke-linejoin="round" opacity="0.85"/>
<polyline points="657.4,2209.6 697.9,2212.3 730.2,2215.0 784.2,2212.3" fill="none" stroke="#527c85" stroke-width="0.8" stroke-linejoin="round" opacity="0.85"/>
<polyline points="711.4,2174.5 708.7,2206.9 714.1,2233.9 719.4,2252.8" fill="none" stroke="#527c85" stroke-width="0.8" stroke-linejoin="round" opacity="0.85"/>
<polyline points="741.0,2126.0 751.8,2153.0 765.3,2179.9 768.0,2206.9 789.6,2233.9" fill="none" stroke="#527c85" stroke-width="0.8" stroke-linejoin="round" opacity="0.85"/>
<polyline points="590.0,2233.9 611.6,2231.2 633.1,2225.8 657.4,2233.9" fill="none" stroke="#527c85" stroke-width="0.8" stroke-linejoin="round" opacity="0.85"/>
<polyline points="340.0,2153.0 367.0,2161.1 393.9,2171.8 414.2,2158.4" fill="none" stroke="#527c85" stroke-width="0.8" stroke-linejoin="round" opacity="0.85"/>
<polyline points="361.6,2196.1 388.5,2217.7 420.9,2223.1 442.5,2252.8 458.7,2279.7 474.8,2293.2" fill="none" stroke="#527c85" stroke-width="0.8" stroke-linejoin="round" opacity="0.85"/>
<polyline points="340.0,2266.2 372.4,2263.5 407.4,2268.9 431.7,2290.5 458.7,2279.7" fill="none" stroke="#527c85" stroke-width="0.8" stroke-linejoin="round" opacity="0.85"/>
<polyline points="372.4,2336.1 375.1,2287.8 388.5,2255.4 383.1,2228.5 369.7,2206.9" fill="none" stroke="#527c85" stroke-width="0.8" stroke-linejoin="round" opacity="0.85"/>
<polyline points="474.8,2236.6 491.0,2255.4 501.8,2277.0" fill="none" stroke="#527c85" stroke-width="0.8" stroke-linejoin="round" opacity="0.85"/>
<polyline points="523.4,2255.4 526.1,2277.0 539.6,2298.6 555.7,2314.8" fill="none" stroke="#527c85" stroke-width="0.8" stroke-linejoin="round" opacity="0.85"/>
<polyline points="491.0,2193.4 485.6,2215.0 501.8,2228.5 512.6,2233.9" fill="none" stroke="#527c85" stroke-width="0.8" stroke-linejoin="round" opacity="0.85"/>
<polyline points="340.0,2190.7 361.6,2196.1 383.1,2212.3 410.1,2217.7 429.0,2233.9 447.9,2266.2 458.7,2279.7 474.8,2287.8 491.0,2301.3 501.8,2314.8" fill="none" stroke="#3f8f99" stroke-width="1" stroke-linejoin="round" opacity="0.8"/>
<polyline points="385.8,2126.0 399.3,2158.4 407.4,2174.5 404.7,2196.1 410.1,2217.7" fill="none" stroke="#3f8f99" stroke-width="1" stroke-linejoin="round" opacity="0.8"/>
<polyline points="340.0,2287.8 372.4,2285.1 393.9,2293.2 420.9,2304.0 447.9,2287.8 458.7,2279.7" fill="none" stroke="#3f8f99" stroke-width="1" stroke-linejoin="round" opacity="0.8"/>
<polyline points="340.0,2099.4 361.6,2104.8 383.1,2110.2 404.7,2104.8 429.0,2110.2 441.1,2115.6" fill="none" stroke="#3f8f99" stroke-width="1" stroke-linejoin="round" opacity="0.8"/>
<polyline points="375.1,2037.4 377.8,2067.0 385.8,2091.3 383.1,2110.2" fill="none" stroke="#3f8f99" stroke-width="1" stroke-linejoin="round" opacity="0.8"/>
<polyline points="340.0,2022.5 356.2,2029.3 375.1,2037.4 407.4,2050.8 429.0,2056.2 451.9,2069.7 474.8,2083.2 493.7,2094.0 515.3,2102.1 539.6,2103.4 553.1,2110.2 571.9,2121.0 590.0,2131.7" fill="none" stroke="#5a8529" stroke-width="1.9" stroke-linejoin="round"/>
<polyline points="451.9,2069.7 447.9,2088.6 443.8,2110.2 442.5,2126.1 442.5,2126.0 443.8,2142.2 447.9,2161.1 466.8,2177.2 491.0,2193.4 501.8,2206.9 515.3,2216.3 512.6,2233.9 511.3,2255.4 515.3,2277.0 516.6,2298.6 512.6,2312.1 496.4,2325.6 492.4,2336.1" fill="none" stroke="#5a8529" stroke-width="1.9" stroke-linejoin="round"/>
<polyline points="451.9,2069.7 469.4,2058.9 473.5,2042.8 474.8,2022.5" fill="none" stroke="#5a8529" stroke-width="1.9" stroke-linejoin="round"/>
<polyline points="485.6,1991.5 501.8,1980.7 523.4,1969.9 545.0,1965.9 563.8,1964.5 590.0,1969.9 590.0,1983.4 611.6,1996.9 630.5,2013.1 657.4,2037.4 673.6,2061.6 687.1,2083.2 697.9,2104.8 703.3,2126.1 706.0,2126.0 716.8,2153.0 722.1,2174.5 727.5,2201.5 730.2,2223.1 741.0,2247.4 746.4,2260.8" fill="none" stroke="#5a8529" stroke-width="1.9" stroke-linejoin="round"/>
<polyline points="485.6,1994.2 501.8,2005.0 515.3,2015.8 528.8,2034.7 539.6,2056.2 550.4,2077.8 555.7,2088.6 539.6,2103.4" fill="none" stroke="#5a8529" stroke-width="1.9" stroke-linejoin="round"/>
<polyline points="534.2,1916.0 555.7,1924.1 569.2,1937.6 574.6,1956.5 576.0,1980.7 577.3,2005.0 582.7,2032.0 580.0,2056.2 571.9,2077.8 574.6,2104.8 571.9,2121.0" fill="none" stroke="#5a8529" stroke-width="1.9" stroke-linejoin="round"/>
<polyline points="558.4,1916.0 559.8,1932.2 562.5,1956.5 563.8,1964.5" fill="none" stroke="#5a8529" stroke-width="1.9" stroke-linejoin="round"/>
<polyline points="543.6,2126.0 539.6,2142.2 528.8,2161.1 519.3,2179.9 515.3,2204.2 515.3,2216.3" fill="none" stroke="#5a8529" stroke-width="1.9" stroke-linejoin="round"/>
<polyline points="515.3,2204.2 528.8,2202.9 546.3,2198.8" fill="none" stroke="#5a8529" stroke-width="1.9" stroke-linejoin="round"/>
<polyline points="504.5,2304.0 516.6,2306.7 534.2,2295.9 555.7,2295.4 590.0,2296.4 590.0,2287.8 606.2,2293.2 625.1,2286.5 643.9,2287.8 662.8,2298.6 679.0,2314.8 697.9,2325.6" fill="none" stroke="#5a8529" stroke-width="1.9" stroke-linejoin="round"/>
<polyline points="569.2,2266.2 590.0,2282.4 590.0,2282.4 617.0,2275.7 643.9,2266.2 673.6,2262.2 695.2,2263.5" fill="none" stroke="#5a8529" stroke-width="1.9" stroke-linejoin="round"/>
<polyline points="561.1,2126.0 590.0,2130.0 590.0,2128.7 617.0,2130.0 643.9,2136.8 665.5,2147.6 687.1,2154.3 716.8,2153.0 741.0,2155.7 765.3,2155.7" fill="none" stroke="#5a8529" stroke-width="1.9" stroke-linejoin="round"/>
<polyline points="590.0,2153.0 598.1,2169.1 603.5,2193.4 611.6,2228.5 619.7,2255.4 623.7,2277.0" fill="none" stroke="#5a8529" stroke-width="1.9" stroke-linejoin="round"/>
<polyline points="687.1,2126.0 684.4,2139.5 689.8,2161.1 684.4,2185.3 681.7,2206.9 684.4,2239.3 679.0,2260.8 673.6,2282.4 668.2,2298.6 654.7,2314.8 638.5,2325.6 630.5,2336.1" fill="none" stroke="#5a8529" stroke-width="1.9" stroke-linejoin="round"/>
<polyline points="654.7,2223.1 662.8,2242.0 673.6,2262.2" fill="none" stroke="#5a8529" stroke-width="1.9" stroke-linejoin="round"/>
<polyline points="590.0,1932.2 595.4,1943.0 590.0,1948.4" fill="none" stroke="#5a8529" stroke-width="1.9" stroke-linejoin="round"/>
<polyline points="697.9,2325.6 724.8,2331.0 765.3,2333.7 795.0,2335.0" fill="none" stroke="#5a8529" stroke-width="1.9" stroke-linejoin="round"/>
<path d="M505.9 1978.2 L502.9 1973.8 A3.7 3.7 0 1 1 508.9 1973.8 Z" fill="#f0474f"/><circle cx="505.9" cy="1971.8" r="2" fill="none" stroke="#fff" stroke-width="0.45"/>
<path d="M513.9 2010.5 L510.9 2006.1 A3.7 3.7 0 1 1 516.9 2006.1 Z" fill="#f0474f"/><circle cx="513.9" cy="2004.1" r="2" fill="none" stroke="#fff" stroke-width="0.45"/>
<path d="M509.1 2098.2 L506.1 2093.8 A3.7 3.7 0 1 1 512.1 2093.8 Z" fill="#f0474f"/><circle cx="509.1" cy="2091.8" r="2" fill="none" stroke="#fff" stroke-width="0.45"/>
<path d="M561.1 2125.2 L558.1 2120.8 A3.7 3.7 0 1 1 564.1 2120.8 Z" fill="#f0474f"/><circle cx="561.1" cy="2118.8" r="2" fill="none" stroke="#fff" stroke-width="0.45"/>
<path d="M604.8 2126.5 L601.8 2122.1 A3.7 3.7 0 1 1 607.8 2122.1 Z" fill="#f0474f"/><circle cx="604.8" cy="2120.1" r="2" fill="none" stroke="#fff" stroke-width="0.45"/>
<path d="M637.2 2129.2 L634.2 2124.8 A3.7 3.7 0 1 1 640.2 2124.8 Z" fill="#f0474f"/><circle cx="637.2" cy="2122.8" r="2" fill="none" stroke="#fff" stroke-width="0.45"/>
<path d="M536.9 2335.2 L533.9 2330.8 A3.7 3.7 0 1 1 539.9 2330.8 Z" fill="#f0474f"/><circle cx="536.9" cy="2328.8" r="2" fill="none" stroke="#fff" stroke-width="0.45"/>
<path d="M523.4 2339.2 L520.4 2334.8 A3.7 3.7 0 1 1 526.4 2334.8 Z" fill="#f0474f"/><circle cx="523.4" cy="2332.8" r="2" fill="none" stroke="#fff" stroke-width="0.45"/>
<path d="M637.2 2131.5 L634.2 2127.1 A3.7 3.7 0 1 1 640.2 2127.1 Z" fill="#f0474f"/><circle cx="637.2" cy="2125.1" r="2" fill="none" stroke="#fff" stroke-width="0.45"/>
<path d="M659.3 2263.2 L656.3 2258.8 A3.7 3.7 0 1 1 662.3 2258.8 Z" fill="#f0474f"/><circle cx="659.3" cy="2256.8" r="2" fill="none" stroke="#fff" stroke-width="0.45"/>
<path d="M679.5 2261.0 L676.5 2256.6 A3.7 3.7 0 1 1 682.5 2256.6 Z" fill="#f0474f"/><circle cx="679.5" cy="2254.6" r="2" fill="none" stroke="#fff" stroke-width="0.45"/>
<path d="M623.2 2288.5 L620.2 2284.1 A3.7 3.7 0 1 1 626.2 2284.1 Z" fill="#f0474f"/><circle cx="623.2" cy="2282.1" r="2" fill="none" stroke="#fff" stroke-width="0.45"/>
<path d="M747.0 2264.2 L744.0 2259.8 A3.7 3.7 0 1 1 750.0 2259.8 Z" fill="#f0474f"/><circle cx="747.0" cy="2257.8" r="2" fill="none" stroke="#fff" stroke-width="0.45"/>
<circle cx="569.2" cy="1953.0" r="1.1" fill="#f4a0a0"/>
<text x="569.2" y="1959.3" font-size="4.4" fill="#e8eef2" text-anchor="middle" font-weight="700" letter-spacing="0" >连云港</text>
<circle cx="456.0" cy="2050.9" r="1.1" fill="#f4a0a0"/>
<text x="456.0" y="2057.2" font-size="4.4" fill="#e8eef2" text-anchor="middle" font-weight="700" letter-spacing="0" >宿迁</text>
<circle cx="549.0" cy="2105.9" r="1.1" fill="#f4a0a0"/>
<text x="549.0" y="2112.2" font-size="4.4" fill="#e8eef2" text-anchor="middle" font-weight="700" letter-spacing="0" >淮安</text>
<circle cx="691.9" cy="2139.5" r="1.1" fill="#f4a0a0"/>
<text x="691.9" y="2145.8" font-size="4.4" fill="#e8eef2" text-anchor="middle" font-weight="700" letter-spacing="0" >盐城</text>
<circle cx="663.4" cy="2279.0" r="1.1" fill="#f4a0a0"/>
<text x="663.4" y="2285.3" font-size="4.4" fill="#e8eef2" text-anchor="middle" font-weight="700" letter-spacing="0" >泰州</text>
<circle cx="600.8" cy="2287.1" r="1.1" fill="#f4a0a0"/>
<text x="600.8" y="2293.4" font-size="4.4" fill="#e8eef2" text-anchor="middle" font-weight="700" letter-spacing="0" >扬州</text>
<circle cx="603.5" cy="2315.9" r="1.1" fill="#f4a0a0"/>
<text x="603.5" y="2322.2" font-size="4.4" fill="#e8eef2" text-anchor="middle" font-weight="700" letter-spacing="0" >镇江</text>
<circle cx="460.6" cy="2301.4" r="1.1" fill="#f4a0a0"/>
<text x="460.6" y="2307.7" font-size="4.4" fill="#e8eef2" text-anchor="middle" font-weight="700" letter-spacing="0" >滁州</text>
<circle cx="519.3" cy="2327.5" r="1.1" fill="#f4a0a0"/>
<text x="519.3" y="2333.8" font-size="4.4" fill="#e8eef2" text-anchor="middle" font-weight="700" letter-spacing="0" >南京</text>
<rect x="596.9" y="2129.6" width="4" height="8" rx="1" fill="#f2b21b"/><rect x="597.6" y="2132.6" width="2.600" height="3" fill="#222"/>
<polyline points="598.9,2171.8 602.1,2179.9" stroke="#f39a1f" stroke-width="1.8" fill="none"/>
<polyline points="592.2,2282.4 590.8,2289.2" stroke="#f39a1f" stroke-width="1.8" fill="none"/>
</g>
<defs><filter id="bl1" x="-5%" y="-5%" width="110%" height="110%"><feGaussianBlur stdDeviation="0.5"/></filter><linearGradient id="sk0" x1="0" y1="0" x2="0" y2="1"><stop offset="0" stop-color="#bfc8d6"/><stop offset="1" stop-color="#dfe2e4"/></linearGradient></defs>
<g clip-path="url(#c1)"><g transform="translate(347 1944)" filter="url(#bl1)">
<rect x="-2" y="-2" width="144" height="82" fill="#8b8f74"/>
<rect x="-2" y="-2" width="144" height="15" fill="url(#sk0)"/>
<polygon points="-2,9 30,10 60,8 90,9 118,11 141,8 144,8 144,15 -2,17" fill="#6d7b6a"/>
<polygon points="-2,15 70,13 112,13 60,22 -2,30" fill="#6f7f52"/>
<polygon points="-2,27 60,21 114,13 116,13 -2,48" fill="#a39475"/>
<polygon points="-2,40 30,33 116,13 -2,50" fill="#b7a78f"/>
<polygon points="-2,49 117,13 119,13 -2,74" fill="#6f7277"/>
<polygon points="-2,71 20,62 -2,82" fill="#e4e4e2"/>
<polygon points="14,82 118,13 120,13 48,82" fill="#414d35"/>
<polygon points="44,82 119,13 122,13 114,82" fill="#5c5f65"/>
<polygon points="110,82 121,13 123,13 120,82" fill="#8f948f"/>
<polygon points="118,82 123,13 144,12 144,82" fill="#b49e85"/>
<polygon points="123,13 144,11 144,27 127,32" fill="#87906a"/>
<rect x="124" y="50" width="20" height="8" fill="#585a60"/>
<g stroke="#ececec" fill="none"><path d="M88 82 L120.500 14" stroke-width="1.300"/><path d="M48 82 L119 14" stroke-width="0.900"/><path d="M72 68 L82 57 M95 43 L100 37" stroke-width="1.100"/><path d="M-2 68 L117 14" stroke-width="0.700"/><path d="M30 45 L42 40" stroke-width="0.700"/></g>
</g></g>
<text x="360.5" y="1953" font-size="4.4" fill="#1c3f8f" text-anchor="start" font-weight="700" letter-spacing="0" >“江苏高速”台山号摄像</text>
<circle cx="353" cy="1951.500" r="3.200" fill="#fff"/><path d="M353 1949.300 l1.600 2.200 l-1.600 2.200 l-1.600 -2.200 z" fill="#2a5fa8"/>
<circle cx="479.800" cy="1950.500" r="4.200" fill="#3a3c40" opacity="0.900"/><path d="M478 1948.700 l3.600 3.600 m0 -3.600 l-3.600 3.600" stroke="#fff" stroke-width="0.900"/>
<rect x="343.500" y="1944" width="3.500" height="60" fill="#1d2026"/>
<circle cx="356" cy="1927.700" r="7.600" fill="#3eb6d8"/>
<circle cx="376" cy="1927.700" r="7.600" fill="#23252b"/>
<circle cx="395.8" cy="1927.700" r="7.600" fill="#3eb6d8"/>
<circle cx="416" cy="1927.700" r="7.600" fill="#23252b"/>
<circle cx="456.5" cy="1927.700" r="7.600" fill="#23252b"/>
<rect x="353.800" y="1923.500" width="4.400" height="8.400" rx="1.5" fill="none" stroke="#fff" stroke-width="1.1"/>
<path d="M370.500 1925 l8 2.500 l-1.300 3.300 l-8 -2.600 z M377 1930.500 l3 1.500" fill="#fff" stroke="#fff" stroke-width="0.8"/>
<ellipse cx="395.800" cy="1928.500" rx="2.700" ry="3.300" fill="#fff"/><path d="M391.500 1926 l8.600 5 m0 -5 l-8.600 5 m0 -2.500 h8.600" stroke="#fff" stroke-width="0.7"/>
<path d="M416 1932.500 l-3.300 -4.600 a3.800 3.800 0 1 1 6.600 0 z" fill="none" stroke="#fff" stroke-width="1.1"/><circle cx="416" cy="1926.300" r="1.200" fill="#fff"/>
<rect x="430.500" y="1922.500" width="14" height="7" rx="1" fill="#2a2c31"/><rect x="431.500" y="1923.300" width="5.500" height="5.400" fill="#d8d8d8"/>
<text x="437.5" y="1935" font-size="3.6" fill="#8fb6bf" text-anchor="middle" font-weight="400" letter-spacing="0" >巡查</text>
<circle cx="456.500" cy="1927.700" r="5" fill="none" stroke="#fff" stroke-width="1"/><rect x="453.800" y="1926" width="5.400" height="3.600" rx="0.8" fill="#fff"/>
<circle cx="824" cy="1928" r="7" fill="#1f2126"/><path d="M821 1929.500 a2.200 2.200 0 0 1 0.500 -4.300 a3 3 0 0 1 5.600 0.600 a1.900 1.900 0 0 1 -0.300 3.700 z" fill="none" stroke="#fff" stroke-width="0.9"/>
<rect x="540" y="2089" width="22" height="13" rx="6.500" fill="#1f2126"/>
<text x="545" y="2097.5" font-size="3.8" fill="#fff" text-anchor="start" font-weight="400" letter-spacing="0" >G2 K97</text>
<rect x="556.500" y="2056.500" width="103.500" height="52.500" fill="#232328"/>
<text x="563" y="2068" font-size="4.4" fill="#3fb3d3" text-anchor="start" font-weight="400" letter-spacing="0" >△交安</text>
<text x="586" y="2068" font-size="4.2" fill="#3fb3d3" text-anchor="start" font-weight="400" letter-spacing="0" >S18  k97+490</text>
<text x="626" y="2068" font-size="4.4" fill="#3fb3d3" text-anchor="start" font-weight="400" letter-spacing="0" >盐淮方向</text>
<text x="563" y="2078" font-size="4.3" fill="#fff" text-anchor="start" font-weight="400" letter-spacing="0" >交安及沿线设施-护栏（栏</text>
<text x="563" y="2085.5" font-size="4.3" fill="#fff" text-anchor="start" font-weight="400" letter-spacing="0" >杆）-护栏损毁待维修</text>
<rect x="563" y="2089" width="8" height="5" fill="#3fb3d3"/><rect x="563" y="2096.500" width="8" height="5" fill="#3fb3d3"/>
<text x="563.6" y="2093.2" font-size="3.6" fill="#123" text-anchor="start" font-weight="400" letter-spacing="0" >数量</text>
<text x="573" y="2093.4" font-size="4.3" fill="#fff" text-anchor="start" font-weight="400" letter-spacing="0" >6 个</text>
<text x="563.6" y="2100.7" font-size="3.6" fill="#123" text-anchor="start" font-weight="400" letter-spacing="0" >位置</text>
<text x="573" y="2100.9" font-size="4.3" fill="#fff" text-anchor="start" font-weight="400" letter-spacing="0" >路侧</text>
<circle cx="629.500" cy="2084.0" r="2.300" fill="none" stroke="#3aa655" stroke-width="0.8"/>
<text x="636" y="2085.5" font-size="4.2" fill="#fff" text-anchor="start" font-weight="400" letter-spacing="0" >无</text>
<circle cx="629.500" cy="2091.6" r="2.300" fill="none" stroke="#e8202a" stroke-width="0.8"/>
<text x="636" y="2093.1" font-size="4.2" fill="#fff" text-anchor="start" font-weight="400" letter-spacing="0" >立即处理</text>
<circle cx="629.500" cy="2099.2" r="2.300" fill="none" stroke="#e8202a" stroke-width="0.8"/>
<text x="636" y="2100.7" font-size="4.2" fill="#fff" text-anchor="start" font-weight="400" letter-spacing="0" >无</text>
<rect x="695" y="1936.500" width="145" height="50" fill="#232328"/>
<text x="698" y="1943.7" font-size="4.3" fill="#3fb3d3" text-anchor="start" font-weight="700" letter-spacing="0" >G2 k286+369桩西断面平均速度</text>
<text x="833" y="1944" font-size="6" fill="#ddd" text-anchor="start" font-weight="400" letter-spacing="0" >×</text>
<rect x="705.500" y="1947.500" width="126.500" height="28.500" fill="#3fae66"/>
<path d="M705.500 1949.500 H832" stroke="#7fe09d" stroke-width="1.2"/>
<g stroke="#2f9657" stroke-width="0.4"><path d="M709.7 1950 V1976"/><path d="M713.9 1950 V1976"/><path d="M718.1 1950 V1976"/><path d="M722.3 1950 V1976"/><path d="M726.5 1950 V1976"/><path d="M730.7 1950 V1976"/><path d="M734.9 1950 V1976"/><path d="M739.1 1950 V1976"/><path d="M743.3 1950 V1976"/><path d="M747.5 1950 V1976"/><path d="M751.7 1950 V1976"/><path d="M755.9 1950 V1976"/><path d="M760.1 1950 V1976"/><path d="M764.3 1950 V1976"/><path d="M768.5 1950 V1976"/><path d="M772.7 1950 V1976"/><path d="M776.9 1950 V1976"/><path d="M781.1 1950 V1976"/><path d="M785.3 1950 V1976"/><path d="M789.5 1950 V1976"/><path d="M793.7 1950 V1976"/><path d="M797.9 1950 V1976"/><path d="M802.1 1950 V1976"/><path d="M806.3 1950 V1976"/><path d="M810.5 1950 V1976"/><path d="M814.7 1950 V1976"/><path d="M818.9 1950 V1976"/><path d="M823.1 1950 V1976"/><path d="M827.3 1950 V1976"/></g>
<path d="M768.500 1947.500 V1976" stroke="#e8502a" stroke-width="1"/>
<text x="704" y="1949.5" font-size="3.2" fill="#fff" text-anchor="end" font-weight="700" letter-spacing="0" >100</text>
<text x="704" y="1954.9" font-size="3.2" fill="#fff" text-anchor="end" font-weight="700" letter-spacing="0" >80</text>
<text x="704" y="1960.3" font-size="3.2" fill="#fff" text-anchor="end" font-weight="700" letter-spacing="0" >60</text>
<text x="704" y="1965.7" font-size="3.2" fill="#fff" text-anchor="end" font-weight="700" letter-spacing="0" >40</text>
<text x="704" y="1971.1" font-size="3.2" fill="#fff" text-anchor="end" font-weight="700" letter-spacing="0" >20</text>
<text x="704" y="1976.5" font-size="3.2" fill="#fff" text-anchor="end" font-weight="700" letter-spacing="0" >0</text>
<text x="706.0" y="1981.8" font-size="3.3" fill="#fff" text-anchor="middle" font-weight="700" letter-spacing="0" >16:40</text>
<text x="719.9" y="1981.8" font-size="3.3" fill="#fff" text-anchor="middle" font-weight="700" letter-spacing="0" >16:53</text>
<text x="733.8" y="1981.8" font-size="3.3" fill="#fff" text-anchor="middle" font-weight="700" letter-spacing="0" >17:06</text>
<text x="747.7" y="1981.8" font-size="3.3" fill="#fff" text-anchor="middle" font-weight="700" letter-spacing="0" >17:19</text>
<text x="761.6" y="1981.8" font-size="3.3" fill="#fff" text-anchor="middle" font-weight="700" letter-spacing="0" >17:32</text>
<text x="775.5" y="1981.8" font-size="3.3" fill="#fff" text-anchor="middle" font-weight="700" letter-spacing="0" >17:45</text>
<text x="789.4" y="1981.8" font-size="3.3" fill="#fff" text-anchor="middle" font-weight="700" letter-spacing="0" >17:58</text>
<text x="803.3" y="1981.8" font-size="3.3" fill="#fff" text-anchor="middle" font-weight="700" letter-spacing="0" >18:11</text>
<text x="817.2" y="1981.8" font-size="3.3" fill="#fff" text-anchor="middle" font-weight="700" letter-spacing="0" >18:24</text>
<text x="831.1" y="1981.8" font-size="3.3" fill="#fff" text-anchor="middle" font-weight="700" letter-spacing="0" >18:37</text>
<rect x="694" y="2260" width="146" height="69" fill="#232328"/>
<text x="699" y="2271.5" font-size="4.6" fill="#3fb3d3" text-anchor="start" font-weight="400" letter-spacing="0" >▤ 巡查实况</text>
<text x="791" y="2271.5" font-size="4.6" fill="#3fb3d3" text-anchor="start" font-weight="700" letter-spacing="0" >0</text>
<text x="795" y="2271.5" font-size="4.4" fill="#ddd" text-anchor="start" font-weight="400" letter-spacing="0" >/ 1982公里</text>
<text x="828" y="2272.3" font-size="8" fill="#ddd" text-anchor="start" font-weight="400" letter-spacing="0" >×</text>
<path d="M707.500 2281 V2314.500 H835" stroke="#3f8fa0" stroke-width="0.6" fill="none"/>
<text x="705.5" y="2283.0" font-size="3.6" fill="#fff" text-anchor="end" font-weight="700" letter-spacing="0" >600</text>
<text x="705.5" y="2288.5" font-size="3.6" fill="#fff" text-anchor="end" font-weight="700" letter-spacing="0" >500</text>
<text x="705.5" y="2294.0" font-size="3.6" fill="#fff" text-anchor="end" font-weight="700" letter-spacing="0" >400</text>
<text x="705.5" y="2299.5" font-size="3.6" fill="#fff" text-anchor="end" font-weight="700" letter-spacing="0" >300</text>
<text x="705.5" y="2305.0" font-size="3.6" fill="#fff" text-anchor="end" font-weight="700" letter-spacing="0" >200</text>
<text x="705.5" y="2310.5" font-size="3.6" fill="#fff" text-anchor="end" font-weight="700" letter-spacing="0" >100</text>
<text x="705.5" y="2316.0" font-size="3.6" fill="#fff" text-anchor="end" font-weight="700" letter-spacing="0" >0</text>
<rect x="715.0" y="2299.0" width="10" height="15.5" fill="#6a6a6c"/>
<text x="720.0" y="2297.5" font-size="3.5" fill="#888" text-anchor="middle" font-weight="400" letter-spacing="0" >286</text>
<text x="720.0" y="2321" font-size="3.6" fill="#3fb3d3" text-anchor="middle" font-weight="400" letter-spacing="0" >淮连盐</text>
<rect x="737.3" y="2286.0" width="10" height="28.5" fill="#6a6a6c"/>
<text x="742.3" y="2284.5" font-size="3.5" fill="#888" text-anchor="middle" font-weight="400" letter-spacing="0" >526</text>
<text x="742.3" y="2321" font-size="3.6" fill="#3fb3d3" text-anchor="middle" font-weight="400" letter-spacing="0" >京沪</text>
<rect x="759.6" y="2292.0" width="10" height="22.5" fill="#6a6a6c"/>
<text x="764.6" y="2290.5" font-size="3.5" fill="#888" text-anchor="middle" font-weight="400" letter-spacing="0" >412</text>
<text x="764.6" y="2321" font-size="3.6" fill="#3fb3d3" text-anchor="middle" font-weight="400" letter-spacing="0" >徐淮</text>
<rect x="781.9" y="2298.0" width="10" height="16.5" fill="#6a6a6c"/>
<text x="786.9" y="2296.5" font-size="3.5" fill="#888" text-anchor="middle" font-weight="400" letter-spacing="0" >304</text>
<text x="786.9" y="2321" font-size="3.6" fill="#3fb3d3" text-anchor="middle" font-weight="400" letter-spacing="0" >宁靖盐</text>
<rect x="804.2" y="2290.0" width="10" height="24.5" fill="#6a6a6c"/>
<text x="809.2" y="2288.5" font-size="3.5" fill="#888" text-anchor="middle" font-weight="400" letter-spacing="0" >454</text>
<text x="809.2" y="2321" font-size="3.6" fill="#3fb3d3" text-anchor="middle" font-weight="400" letter-spacing="0" >东部高速</text>
<rect x="343.500" y="2170.5" width="16" height="15" fill="#22303a" opacity="0.92"/>
<rect x="343.500" y="2187.2" width="16" height="15" fill="#22303a" opacity="0.92"/>
<rect x="343.500" y="2203.9" width="16" height="15" fill="#22303a" opacity="0.92"/>
<rect x="343.500" y="2220.6" width="16" height="15" fill="#22303a" opacity="0.92"/>
<rect x="343.500" y="2237.3" width="16" height="15" fill="#22303a" opacity="0.92"/>
<rect x="343.500" y="2254.0" width="16" height="15" fill="#22303a" opacity="0.92"/>
<rect x="343.500" y="2270.7" width="16" height="15" fill="#22303a" opacity="0.92"/>
<rect x="343.500" y="2287.4" width="16" height="15" fill="#22303a" opacity="0.92"/>
<rect x="343.500" y="2304.1" width="16" height="15" fill="#22303a" opacity="0.92"/>
<rect x="343.500" y="2320.8" width="16" height="15" fill="#fff" opacity="1"/>
<text x="351.5" y="2180.3" font-size="6" fill="#e6eaee" text-anchor="middle" font-weight="700" letter-spacing="0" >★</text>
<text x="351.5" y="2197.0" font-size="6" fill="#e6eaee" text-anchor="middle" font-weight="700" letter-spacing="0" >▟</text>
<text x="351.5" y="2213.7000000000003" font-size="6" fill="#e6eaee" text-anchor="middle" font-weight="700" letter-spacing="0" >▲</text>
<text x="351.5" y="2230.4" font-size="6" fill="#e6eaee" text-anchor="middle" font-weight="700" letter-spacing="0" >P</text>
<text x="351.5" y="2247.1000000000004" font-size="6" fill="#e6eaee" text-anchor="middle" font-weight="700" letter-spacing="0" >▙</text>
<text x="351.5" y="2263.8" font-size="6" fill="#e6eaee" text-anchor="middle" font-weight="700" letter-spacing="0" >◗</text>
<text x="351.5" y="2280.5" font-size="6" fill="#e6eaee" text-anchor="middle" font-weight="700" letter-spacing="0" >▣</text>
<text x="351.5" y="2297.2000000000003" font-size="6" fill="#e6eaee" text-anchor="middle" font-weight="700" letter-spacing="0" >▬</text>
<text x="351.5" y="2313.9" font-size="6" fill="#e6eaee" text-anchor="middle" font-weight="700" letter-spacing="0" >▀</text>
<path d="M348.500 2326.300 h6 m-6 2 h6 m-6 2 h6" stroke="#999" stroke-width="0.8"/>
<rect x="215" y="1916" width="21" height="421" fill="#051230"/><rect x="215" y="1916.0" width="21" height="26.3" fill="#2d63b5"/><rect x="215" y="1945.6" width="21" height="26.3" fill="#0f2a50"/><rect x="215" y="1975.2" width="21" height="26.3" fill="#0f2a50"/><rect x="215" y="2004.8" width="21" height="26.3" fill="#0f2a50"/><rect x="215" y="2034.4" width="21" height="26.3" fill="#0f2a50"/><rect x="215" y="2064.0" width="21" height="26.3" fill="#0f2a50"/><rect x="215" y="2093.6" width="21" height="26.3" fill="#0f2a50"/><g transform="translate(225.5 1928.0) scale(0.9)"><path d="M-5.500 -0.500 q0.500 -3 3.500 -2.500 q1.500 -2.500 4.500 -1.200 q3 -0.300 2.700 2.700 q0.800 2.800 -1.700 3.600 q-1 2.300 -4 1.800 q-2 0.600 -3 -1.300 q-2.300 -0.600 -2 -3.100 z" fill="#fff"/><circle cx="0.500" cy="-1.500" r="1.100" fill="#2d63b5"/></g><g transform="translate(225.5 1957.5) scale(0.9)"><path d="M-3.500 -3.200 H2.800 a1.900 1.900 0 0 1 0 3.800 H-2.800 a1.900 1.900 0 0 0 0 3.800 H3.500" fill="none" stroke="#d3d9e3" stroke-width="1.300"/><path d="M-3 -5 l-2.500 1.800 l2.500 1.800 z M3 2.600 l2.500 1.800 l-2.500 1.800 z" fill="#d3d9e3"/></g><g transform="translate(225.5 1987.2) scale(0.9)"><ellipse cx="0" cy="0.800" rx="2.900" ry="3.700" fill="#d3d9e3"/><path d="M-2.200 -3 a2.200 2 0 0 1 4.400 0 z" fill="#d3d9e3"/><path d="M-5 -3.500 l2.500 2 M5 -3.500 l-2.500 2 M-5.300 1 h2.500 M5.300 1 h-2.500 M-5 5 l2.500 -2 M5 5 l-2.500 -2" stroke="#d3d9e3" stroke-width="0.900" fill="none"/><path d="M0 -1.500 v5.500" stroke="#0f2a50" stroke-width="0.700"/></g><g transform="translate(225.5 2016.8) scale(0.9)"><circle cx="-0.800" cy="-4.600" r="1.400" fill="#d3d9e3"/><path d="M-4.800 -1.600 l1.200 -1.300 l2.400 -0.400 l1.700 0.600 l1.100 3.700 l-0.900 0.700 l-1.300 -1.800 l-0.400 1.500 l1.700 1.600 l-0.800 2.800 h-1.400 l0.600 -2.300 l-1.700 -1.500 l-1.100 3.800 h-1.800 l1.600 -5.100 z" fill="#d3d9e3"/><path d="M0.500 5.400 l3 -4.600 l2.800 4.600 z" fill="#d3d9e3"/></g><g transform="translate(225.5 2046.4) scale(0.9)"><rect x="-4.300" y="-4" width="8.600" height="9.400" rx="0.800" fill="#d3d9e3"/><rect x="-1.800" y="-5.600" width="3.600" height="2.600" rx="0.800" fill="#d3d9e3"/><path d="M-2.300 0.700 l1.600 1.700 l3 -3.200" stroke="#0f2a50" stroke-width="1.200" fill="none"/></g><g transform="translate(225.5 2076.0) scale(0.9)"><rect x="-4.200" y="-5.200" width="8.400" height="10.400" rx="0.600" fill="#d3d9e3"/><path d="M-2.400 -2.800 h4.800 M-2.400 -0.600 h3 M-2.400 1.600 h2 M0.800 2.600 h2 M-2.400 3.500 h1" stroke="#0f2a50" stroke-width="0.900" fill="none"/></g><g transform="translate(225.5 2105.6) scale(0.9)"><path d="M-4.600 -5 v9.600 h9.600" stroke="#d3d9e3" stroke-width="1" fill="none"/><path d="M-2.400 -0.500 v4.300 M0.300 -3 v6.800 M3 0.800 v3" stroke="#d3d9e3" stroke-width="1.700" fill="none"/></g><g transform="translate(225.5 2301.5)"><path d="M-3.800 -2.200 H2 a2.600 2.600 0 0 1 0 5.200 H-3.800" fill="none" stroke="#d3d9e3" stroke-width="1.200"/><path d="M-2.800 -4.400 l-2.800 2.200 l2.800 2.200 z" fill="#d3d9e3"/></g><g transform="translate(225.5 2325.5)"><path d="M-4.600 -3.200 h9.200 M-4.600 0 h5.600 M-4.600 3.200 h9.200" stroke="#d3d9e3" stroke-width="1.200" fill="none"/><path d="M2.500 -1.700 l2.600 1.700 l-2.600 1.700 z" fill="#d3d9e3"/></g>
<rect x="236" y="1916" width="104" height="421" fill="#242429"/>
<rect x="236" y="1916" width="104" height="13" fill="#2f323b"/>
<text x="239.5" y="1925" font-size="5.2" fill="#3fb3d3" text-anchor="start" font-weight="400" letter-spacing="0" >养护公司</text>
<path d="M288.10 1950.10 A23 23 0 0 1 292.09 1950.45" fill="none" stroke="#2fb8dc" stroke-width="6"/>
<path d="M292.09 1950.45 A23 23 0 0 1 305.72 1958.32" fill="none" stroke="#f5850f" stroke-width="6"/>
<path d="M305.72 1958.32 A23 23 0 1 1 269.26 1986.29" fill="none" stroke="#b5dc22" stroke-width="6"/>
<path d="M269.26 1986.29 A23 23 0 0 1 288.10 1950.10" fill="none" stroke="#4fd68e" stroke-width="6"/>
<text x="288.1" y="1970.5" font-size="4.6" fill="#8a8d93" text-anchor="middle" font-weight="400" letter-spacing="0" >总病害</text>
<text x="288.1" y="1977" font-size="5.2" fill="#8a8d93" text-anchor="middle" font-weight="400" letter-spacing="0" >523</text>
<g fill="none" stroke-width="0.5"><path d="M292 1948 L305 1940.500 H319" stroke="#2f8aa0"/><path d="M300 1951 L313 1957.500 H329" stroke="#f5850f"/><path d="M263 1960 H249" stroke="#4fd68e"/><path d="M305 1994 L307 2004 H321" stroke="#b5dc22"/></g>
<text x="307" y="1946" font-size="3.8" fill="#2fb8dc" text-anchor="start" font-weight="400" letter-spacing="0" >已完成</text>
<text x="307" y="1951" font-size="3.8" fill="#2fb8dc" text-anchor="start" font-weight="400" letter-spacing="0" >3.82%</text>
<text x="316" y="1950.5" font-size="3.8" fill="#f5850f" text-anchor="start" font-weight="400" letter-spacing="0" >待派发</text>
<text x="316" y="1955.5" font-size="3.8" fill="#f5850f" text-anchor="start" font-weight="400" letter-spacing="0" >8.22%</text>
<text x="250" y="1954" font-size="3.8" fill="#4fd68e" text-anchor="start" font-weight="400" letter-spacing="0" >待验收</text>
<text x="250" y="1959" font-size="3.8" fill="#4fd68e" text-anchor="start" font-weight="400" letter-spacing="0" >34.8%</text>
<text x="308" y="1997.5" font-size="3.8" fill="#b5dc22" text-anchor="start" font-weight="400" letter-spacing="0" >施工中</text>
<text x="308" y="2002.5" font-size="3.8" fill="#b5dc22" text-anchor="start" font-weight="400" letter-spacing="0" >53.16%</text>
<text x="247.8" y="2018" font-size="7.6" fill="#3fa9c9" text-anchor="middle" font-weight="400" letter-spacing="0" >20</text>
<text x="247.8" y="2026.8" font-size="4.2" fill="#3fa9c9" text-anchor="middle" font-weight="700" letter-spacing="0" >已完成</text>
<text x="272.7" y="2018" font-size="7.6" fill="#f5850f" text-anchor="middle" font-weight="700" letter-spacing="0" >43</text>
<text x="272.7" y="2026.8" font-size="4.2" fill="#f5850f" text-anchor="middle" font-weight="700" letter-spacing="0" >待派发</text>
<text x="297.6" y="2018" font-size="7.6" fill="#a9cf2b" text-anchor="middle" font-weight="400" letter-spacing="0" >278</text>
<text x="297.6" y="2026.8" font-size="4.2" fill="#a9cf2b" text-anchor="middle" font-weight="700" letter-spacing="0" >施工中</text>
<text x="323" y="2018" font-size="7.6" fill="#4fc98f" text-anchor="middle" font-weight="400" letter-spacing="0" >182</text>
<text x="323" y="2026.8" font-size="4.2" fill="#4fc98f" text-anchor="middle" font-weight="700" letter-spacing="0" >待验收</text>
<rect x="236" y="2035.500" width="104" height="13.300" fill="#2f323b"/>
<circle cx="244" cy="2042.300" r="6" fill="#2b5fc0" stroke="#23252b" stroke-width="1"/><rect x="242" y="2039.800" width="4" height="4.500" rx="1.3" fill="#fff"/>
<circle cx="261.4" cy="2042.300" r="6" fill="#e8202a" stroke="#23252b" stroke-width="1"/><rect x="259.4" y="2039.800" width="4" height="4.500" rx="1.3" fill="#fff"/>
<circle cx="278.4" cy="2042.300" r="6" fill="#3aa655" stroke="#23252b" stroke-width="1"/><rect x="276.4" y="2039.800" width="4" height="4.500" rx="1.3" fill="#fff"/>
<rect x="321" y="2038" width="16" height="8.500" rx="1" fill="#23242a"/>
<text x="329" y="2044.5" font-size="4.4" fill="#fff" text-anchor="middle" font-weight="700" letter-spacing="0" >全部</text>
<rect x="260" y="2052" width="73" height="276" fill="none" stroke="#3a8092" stroke-width="0.9"/>
<path d="M260 2107 H333" stroke="#3a8092" stroke-width="0.9"/>
<path d="M260 2162 H333" stroke="#3a8092" stroke-width="0.9"/>
<path d="M260 2217.5 H333" stroke="#3a8092" stroke-width="0.9"/>
<path d="M260 2272.5 H333" stroke="#3a8092" stroke-width="0.9"/>
<rect x="260" y="2220" width="73" height="14" fill="#3463ad"/>
<text x="296.5" y="2229" font-size="4" fill="#fff" text-anchor="middle" font-weight="400" letter-spacing="0" >1</text>
<circle cx="260" cy="2061.0" r="1.500" fill="#8ea5d6"/>
<circle cx="260" cy="2079.2" r="1.500" fill="#f08a8a"/>
<circle cx="260" cy="2097.4" r="1.500" fill="#a5d6a7"/>
<circle cx="260" cy="2116.2" r="1.500" fill="#8ea5d6"/>
<circle cx="260" cy="2134.4" r="1.500" fill="#f08a8a"/>
<circle cx="260" cy="2152.6" r="1.500" fill="#a5d6a7"/>
<circle cx="260" cy="2171.4" r="1.500" fill="#8ea5d6"/>
<circle cx="260" cy="2189.6" r="1.500" fill="#f08a8a"/>
<circle cx="260" cy="2207.8" r="1.500" fill="#a5d6a7"/>
<circle cx="260" cy="2226.6" r="1.500" fill="#8ea5d6"/>
<circle cx="260" cy="2244.8" r="1.500" fill="#f08a8a"/>
<circle cx="260" cy="2263.0" r="1.500" fill="#a5d6a7"/>
<circle cx="260" cy="2281.8" r="1.500" fill="#8ea5d6"/>
<circle cx="260" cy="2300.0" r="1.500" fill="#f08a8a"/>
<circle cx="260" cy="2318.2" r="1.500" fill="#a5d6a7"/>
<text x="257" y="2080.6" font-size="3.8" fill="#3fb3d3" text-anchor="end" font-weight="400" letter-spacing="0" >东部高速</text>
<text x="257" y="2135.7999999999997" font-size="3.8" fill="#3fb3d3" text-anchor="end" font-weight="400" letter-spacing="0" >宁靖盐</text>
<text x="257" y="2191.0" font-size="3.8" fill="#3fb3d3" text-anchor="end" font-weight="400" letter-spacing="0" >徐淮</text>
<text x="257" y="2246.2" font-size="3.8" fill="#3fb3d3" text-anchor="end" font-weight="400" letter-spacing="0" >淮连盐</text>
<text x="257" y="2301.4" font-size="3.8" fill="#3fb3d3" text-anchor="end" font-weight="400" letter-spacing="0" >京沪</text>
<text x="260" y="2333.5" font-size="3.8" fill="#3fb3d3" text-anchor="middle" font-weight="400" letter-spacing="0" >0</text>
<text x="333" y="2333.5" font-size="3.8" fill="#3fb3d3" text-anchor="middle" font-weight="400" letter-spacing="0" >1</text>
<rect x="840" y="1916" width="208.500" height="421" fill="#25252a"/>
<rect x="840" y="1916" width="208.500" height="12.500" fill="#2e3039"/>
<text x="848.0" y="1924.3" font-size="4.3" fill="#fff" text-anchor="middle" font-weight="400" letter-spacing="0" >当日</text>
<path d="M855.3 1916 V1928.500" stroke="#23252b" stroke-width="0.5"/>
<text x="862.85" y="1924.3" font-size="4.3" fill="#fff" text-anchor="middle" font-weight="400" letter-spacing="0" >昨日</text>
<path d="M870.1 1916 V1928.500" stroke="#23252b" stroke-width="0.5"/>
<text x="877.7" y="1924.3" font-size="4.3" fill="#fff" text-anchor="middle" font-weight="400" letter-spacing="0" >本月</text>
<path d="M885.0 1916 V1928.500" stroke="#23252b" stroke-width="0.5"/>
<text x="892.55" y="1924.3" font-size="4.3" fill="#3fb3d3" text-anchor="middle" font-weight="400" letter-spacing="0" >本年</text>
<path d="M899.8 1916 V1928.500" stroke="#23252b" stroke-width="0.5"/>
<text x="907.4" y="1924.3" font-size="4.3" fill="#fff" text-anchor="middle" font-weight="400" letter-spacing="0" >去年</text>
<path d="M914.7 1916 V1928.500" stroke="#23252b" stroke-width="0.5"/>
<circle cx="971.500" cy="1924.800" r="1.600" fill="#f52525"/>
<text x="974.5" y="1926.5" font-size="4.4" fill="#f52525" text-anchor="start" font-weight="400" letter-spacing="0" >病害 249</text>
<circle cx="996.700" cy="1924.800" r="1.600" fill="#2f62b5"/>
<text x="999.5" y="1926.5" font-size="4.4" fill="#2f62b5" text-anchor="start" font-weight="400" letter-spacing="0" >已派 537</text>
<circle cx="1020.500" cy="1924.800" r="1.600" fill="#3aa655"/>
<text x="1023.5" y="1926.5" font-size="4.4" fill="#3aa655" text-anchor="start" font-weight="400" letter-spacing="0" >在架病害 0</text>
<g stroke="#2b7580" stroke-width="0.5" fill="none"><rect x="854.3" y="1936" width="191.70000000000005" height="32.90000000000009"/><path d="M870.3 1936 V1968.9"/><path d="M886.2 1936 V1968.9"/><path d="M902.2 1936 V1968.9"/><path d="M918.2 1936 V1968.9"/><path d="M934.2 1936 V1968.9"/><path d="M950.1 1936 V1968.9"/><path d="M966.1 1936 V1968.9"/><path d="M982.1 1936 V1968.9"/><path d="M998.1 1936 V1968.9"/><path d="M1014.0 1936 V1968.9"/><path d="M1030.0 1936 V1968.9"/><path d="M854.3 1941.5 H1046"/><path d="M854.3 1947.0 H1046"/><path d="M854.3 1952.5 H1046"/><path d="M854.3 1957.9 H1046"/><path d="M854.3 1963.4 H1046"/></g>
<rect x="856.2" y="1961.0" width="12.300" height="7.8" fill="#2f62b5"/>
<rect x="872.2" y="1964.6" width="12.300" height="4.3" fill="#2f62b5"/>
<rect x="888.1" y="1959.4" width="12.300" height="8.8" fill="#2f62b5"/>
<rect x="888.1" y="1968.1" width="12.300" height="0.7" fill="#f52525"/>
<rect x="904.1" y="1957.9" width="12.300" height="9.0" fill="#2f62b5"/>
<rect x="904.1" y="1967.0" width="12.300" height="1.9" fill="#f52525"/>
<rect x="920.1" y="1952.2" width="12.300" height="13.1" fill="#2f62b5"/>
<rect x="920.1" y="1965.3" width="12.300" height="3.6" fill="#f52525"/>
<rect x="936.1" y="1952.0" width="12.300" height="9.7" fill="#2f62b5"/>
<rect x="936.1" y="1961.7" width="12.300" height="7.1" fill="#f52525"/>
<rect x="952.0" y="1955.1" width="12.300" height="10.4" fill="#2f62b5"/>
<rect x="952.0" y="1965.5" width="12.300" height="3.3" fill="#f52525"/>
<rect x="968.0" y="1939.2" width="12.300" height="14.2" fill="#2f62b5"/>
<rect x="968.0" y="1953.4" width="12.300" height="15.4" fill="#f52525"/>
<rect x="984.0" y="1938.0" width="12.300" height="18.3" fill="#2f62b5"/>
<rect x="984.0" y="1956.3" width="12.300" height="12.6" fill="#f52525"/>
<text x="862.2874999999999" y="1973.6" font-size="3.2" fill="#3fb3d3" text-anchor="middle" font-weight="400" letter-spacing="0" >01</text>
<text x="878.2624999999999" y="1973.6" font-size="3.2" fill="#3fb3d3" text-anchor="middle" font-weight="400" letter-spacing="0" >02</text>
<text x="894.2375" y="1973.6" font-size="3.2" fill="#3fb3d3" text-anchor="middle" font-weight="400" letter-spacing="0" >03</text>
<text x="910.2125" y="1973.6" font-size="3.2" fill="#3fb3d3" text-anchor="middle" font-weight="400" letter-spacing="0" >04</text>
<text x="926.1875" y="1973.6" font-size="3.2" fill="#3fb3d3" text-anchor="middle" font-weight="400" letter-spacing="0" >05</text>
<text x="942.1625" y="1973.6" font-size="3.2" fill="#3fb3d3" text-anchor="middle" font-weight="400" letter-spacing="0" >06</text>
<text x="958.1374999999999" y="1973.6" font-size="3.2" fill="#3fb3d3" text-anchor="middle" font-weight="400" letter-spacing="0" >07</text>
<text x="974.1125" y="1973.6" font-size="3.2" fill="#3fb3d3" text-anchor="middle" font-weight="400" letter-spacing="0" >08</text>
<text x="990.0875" y="1973.6" font-size="3.2" fill="#3fb3d3" text-anchor="middle" font-weight="400" letter-spacing="0" >09</text>
<text x="1006.0625" y="1973.6" font-size="3.2" fill="#3fb3d3" text-anchor="middle" font-weight="400" letter-spacing="0" >10</text>
<text x="1022.0375" y="1973.6" font-size="3.2" fill="#3fb3d3" text-anchor="middle" font-weight="400" letter-spacing="0" >11</text>
<text x="1038.0125" y="1973.6" font-size="3.2" fill="#3fb3d3" text-anchor="middle" font-weight="400" letter-spacing="0" >12</text>
<text x="852" y="1937.3" font-size="3" fill="#3fb3d3" text-anchor="end" font-weight="400" letter-spacing="0" >700</text>
<text x="852" y="1942.7" font-size="3" fill="#3fb3d3" text-anchor="end" font-weight="400" letter-spacing="0" >600</text>
<text x="852" y="1948.1" font-size="3" fill="#3fb3d3" text-anchor="end" font-weight="400" letter-spacing="0" >500</text>
<text x="852" y="1953.5" font-size="3" fill="#3fb3d3" text-anchor="end" font-weight="400" letter-spacing="0" >400</text>
<text x="852" y="1958.8999999999999" font-size="3" fill="#3fb3d3" text-anchor="end" font-weight="400" letter-spacing="0" >300</text>
<text x="852" y="1964.3" font-size="3" fill="#3fb3d3" text-anchor="end" font-weight="400" letter-spacing="0" >200</text>
<text x="852" y="1969.7" font-size="3" fill="#3fb3d3" text-anchor="end" font-weight="400" letter-spacing="0" >0</text>
<rect x="840" y="1979.300" width="208.500" height="13.300" fill="#2e3039"/>
<circle cx="850.2" cy="1986" r="6" fill="#2b5fc0" stroke="#202228" stroke-width="1"/><rect x="848.2" y="1983.500" width="4" height="4.500" rx="1.300" fill="#fff"/>
<circle cx="870.9" cy="1986" r="6" fill="#e8202a" stroke="#202228" stroke-width="1"/><rect x="868.9" y="1983.500" width="4" height="4.500" rx="1.300" fill="#fff"/>
<circle cx="891.8" cy="1986" r="6" fill="#3aa655" stroke="#202228" stroke-width="1"/><rect x="889.8" y="1983.500" width="4" height="4.500" rx="1.300" fill="#fff"/>
<path d="M840 1993 H1048.500 M840 2009.700 H1048.500" stroke="#2b6f7c" stroke-width="0.5"/>
<circle cx="854.500" cy="2002" r="5.300" fill="#2b5fc0" stroke="#202228" stroke-width="0.8"/><rect x="852.700" y="1999.800" width="3.600" height="4" rx="1.200" fill="#fff"/>
<text x="864.5" y="2000.8" font-size="4.3" fill="#fff" text-anchor="start" font-weight="400" letter-spacing="0" >08:25</text>
<text x="881" y="2000.8" font-size="4.15" fill="#fff" text-anchor="start" font-weight="400" letter-spacing="0" >敏连盐-盐安，苏B警车苏A79Q1U在执行日巡查任务，开始位置G1516 K126+500(西向</text>
<text x="881" y="2007.3" font-size="4.15" fill="#fff" text-anchor="start" font-weight="400" letter-spacing="0" >方向) 巡查中。</text>
<rect x="840" y="2042.200" width="208.500" height="11.800" fill="#2e323c"/>
<text x="847" y="2050.3" font-size="4.3" fill="#3fb3d3" text-anchor="start" font-weight="400" letter-spacing="0" >巡护-西段G2 K286~369(巡护)</text>
<text x="1042" y="2050.3" font-size="4.3" fill="#3fb3d3" text-anchor="end" font-weight="700" letter-spacing="0" >2020-05-26 17:40</text>
<path d="M944.200 2054 V2336" stroke="#2b6f7c" stroke-width="0.5"/>
<polygon points="859.700,2059.500 925,2059.500 930.200,2085 855,2085" fill="#30343c"/>
<g stroke="#4d8f99" stroke-width="0.5" stroke-dasharray="1.2 1.2"><path d="M876 2059.500 L873 2085 M884.500 2059.500 L883 2085 M901 2059.500 L902 2085 M909 2059.500 L912 2085"/></g><path d="M867 2059.500 L863.500 2085 M918 2059.500 L921.500 2085" stroke="#4d8f99" stroke-width="0.6"/><path d="M892.500 2059.500 L892 2085" stroke="#e8752a" stroke-width="0.8"/>
<path d="M896.500 2071 L892.300 2065.500 A5 5 0 1 1 900.700 2065.500 Z" fill="#f2545b"/>
<circle cx="951" cy="2064" r="4.600" fill="#17191d"/><path d="M951 2061.300 v2.500 m-2.500 2.500 v-1.500 h5 v1.500 m-2.500 -1.500 v1.500" stroke="#fff" stroke-width="0.7" fill="none"/><circle cx="951" cy="2061.300" r="0.800" fill="#fff"/>
<text x="843.5" y="2094.7" font-size="4.1" fill="#2fa3c4" text-anchor="start" font-weight="400" letter-spacing="0" >上报时间:</text>
<text x="864.8" y="2094.7" font-size="4.2" fill="#fff" text-anchor="start" font-weight="700" letter-spacing="0" >2020-05-26</text>
<text x="843.5" y="2103.6499999999996" font-size="4.1" fill="#2fa3c4" text-anchor="start" font-weight="400" letter-spacing="0" >上报人员:</text>
<text x="864.8" y="2103.6499999999996" font-size="4.2" fill="#fff" text-anchor="start" font-weight="700" letter-spacing="0" >杨高亚</text>
<text x="843.5" y="2112.6" font-size="4.1" fill="#2fa3c4" text-anchor="start" font-weight="400" letter-spacing="0" >病害类型:</text>
<text x="864.8" y="2112.6" font-size="4.2" fill="#fff" text-anchor="start" font-weight="700" letter-spacing="0" >路基-路肩-沥青路面-龟裂</text>
<text x="843.5" y="2121.5499999999997" font-size="4.1" fill="#2fa3c4" text-anchor="start" font-weight="400" letter-spacing="0" >病害数量:</text>
<text x="864.8" y="2121.5499999999997" font-size="4.2" fill="#fff" text-anchor="start" font-weight="700" letter-spacing="0" >25㎡</text>
<text x="843.5" y="2130.5" font-size="4.1" fill="#2fa3c4" text-anchor="start" font-weight="400" letter-spacing="0" >病害位置:</text>
<text x="864.8" y="2130.5" font-size="4.2" fill="#fff" text-anchor="start" font-weight="700" letter-spacing="0" >车道一</text>
<text x="843.5" y="2139.45" font-size="4.1" fill="#2fa3c4" text-anchor="start" font-weight="400" letter-spacing="0" >处置情况:</text>
<text x="864.8" y="2139.45" font-size="4.2" fill="#fff" text-anchor="start" font-weight="700" letter-spacing="0" >立即处置</text>
<text x="843.5" y="2148.3999999999996" font-size="4.1" fill="#2fa3c4" text-anchor="start" font-weight="400" letter-spacing="0" >病害描述:</text>
<text x="864.8" y="2148.3999999999996" font-size="4.2" fill="#fff" text-anchor="start" font-weight="700" letter-spacing="0" >裂纹</text>
<text x="893" y="2130.5" font-size="4.1" fill="#2fa3c4" text-anchor="start" font-weight="400" letter-spacing="0" >病害层别:</text>
<text x="914.5" y="2130.5" font-size="4.2" fill="#fff" text-anchor="start" font-weight="700" letter-spacing="0" >砼</text>
<text x="893" y="2139.4" font-size="4.1" fill="#2fa3c4" text-anchor="start" font-weight="400" letter-spacing="0" >病害原因:</text>
<text x="914.5" y="2139.4" font-size="4.2" fill="#fff" text-anchor="start" font-weight="700" letter-spacing="0" >自然损害</text>
<rect x="843.500" y="2154" width="44.500" height="31.500" fill="#8f9694"/><rect x="843.500" y="2154" width="44.500" height="9" fill="#dfe3e6"/><polygon points="843.500,2185.500 860,2163 870,2163 888,2178 888,2185.500" fill="#6f7375"/><polygon points="843.500,2168 858,2163 843.500,2180" fill="#66704f"/><path d="M846 2172 h30 M846 2178 h34" stroke="#d8c24a" stroke-width="0.7" opacity="0.8"/>
<text x="996" y="2206.5" font-size="4.6" fill="#e6e6e6" text-anchor="middle" font-weight="400" letter-spacing="0" >暂无数据...</text>
</svg>

<svg style="left:0;top:2420px" width="1260" height="450" viewBox="0 2420 1260 450">
<defs><clipPath id="s2c"><rect x="214" y="2434" width="836" height="413.800"/></clipPath></defs>
<rect x="236.300" y="2434" width="813.700" height="420" fill="#f0f0f0"/>
<rect x="239" y="2439" width="806" height="408.800" fill="#fff"/>
<rect x="214" y="2434" width="20.3" height="422" fill="#051230"/><rect x="214" y="2434.0" width="20.3" height="26.5" fill="#0f2a50"/><rect x="214" y="2463.6" width="20.3" height="26.5" fill="#0f2a50"/><rect x="214" y="2493.2" width="20.3" height="26.5" fill="#0f2a50"/><rect x="214" y="2522.8" width="20.3" height="26.5" fill="#0f2a50"/><rect x="214" y="2552.4" width="20.3" height="26.5" fill="#0f2a50"/><rect x="214" y="2582.0" width="20.3" height="26.5" fill="#0f2a50"/><rect x="214" y="2611.6" width="20.3" height="26.5" fill="#2d63b5"/><g transform="translate(224.15 2446.1) scale(0.9)"><path d="M-5.500 -0.500 q0.500 -3 3.500 -2.500 q1.500 -2.500 4.500 -1.200 q3 -0.300 2.700 2.700 q0.800 2.800 -1.700 3.600 q-1 2.300 -4 1.800 q-2 0.600 -3 -1.300 q-2.300 -0.600 -2 -3.100 z" fill="#fff"/><circle cx="0.500" cy="-1.500" r="1.100" fill="#2d63b5"/></g><g transform="translate(224.15 2475.7) scale(0.9)"><path d="M-3.500 -3.200 H2.800 a1.900 1.900 0 0 1 0 3.800 H-2.800 a1.900 1.900 0 0 0 0 3.800 H3.500" fill="none" stroke="#d3d9e3" stroke-width="1.300"/><path d="M-3 -5 l-2.500 1.800 l2.500 1.800 z M3 2.600 l2.500 1.800 l-2.500 1.800 z" fill="#d3d9e3"/></g><g transform="translate(224.15 2505.2) scale(0.9)"><ellipse cx="0" cy="0.800" rx="2.900" ry="3.700" fill="#d3d9e3"/><path d="M-2.200 -3 a2.200 2 0 0 1 4.400 0 z" fill="#d3d9e3"/><path d="M-5 -3.500 l2.500 2 M5 -3.500 l-2.500 2 M-5.300 1 h2.500 M5.300 1 h-2.500 M-5 5 l2.500 -2 M5 5 l-2.500 -2" stroke="#d3d9e3" stroke-width="0.900" fill="none"/><path d="M0 -1.500 v5.500" stroke="#0f2a50" stroke-width="0.700"/></g><g transform="translate(224.15 2534.9) scale(0.9)"><circle cx="-0.800" cy="-4.600" r="1.400" fill="#d3d9e3"/><path d="M-4.800 -1.600 l1.200 -1.300 l2.400 -0.400 l1.700 0.600 l1.100 3.700 l-0.900 0.700 l-1.300 -1.800 l-0.400 1.500 l1.700 1.600 l-0.800 2.800 h-1.400 l0.600 -2.300 l-1.700 -1.500 l-1.100 3.800 h-1.800 l1.600 -5.100 z" fill="#d3d9e3"/><path d="M0.500 5.400 l3 -4.600 l2.800 4.600 z" fill="#d3d9e3"/></g><g transform="translate(224.15 2564.5) scale(0.9)"><rect x="-4.300" y="-4" width="8.600" height="9.400" rx="0.800" fill="#d3d9e3"/><rect x="-1.800" y="-5.600" width="3.600" height="2.600" rx="0.800" fill="#d3d9e3"/><path d="M-2.300 0.700 l1.600 1.700 l3 -3.200" stroke="#0f2a50" stroke-width="1.200" fill="none"/></g><g transform="translate(224.15 2594.1) scale(0.9)"><rect x="-4.200" y="-5.200" width="8.400" height="10.400" rx="0.600" fill="#d3d9e3"/><path d="M-2.400 -2.800 h4.800 M-2.400 -0.600 h3 M-2.400 1.600 h2 M0.800 2.600 h2 M-2.400 3.500 h1" stroke="#0f2a50" stroke-width="0.900" fill="none"/></g><g transform="translate(224.15 2623.7) scale(0.9)"><path d="M-4.600 -5 v9.600 h9.600" stroke="#d3d9e3" stroke-width="1" fill="none"/><path d="M-2.400 -0.500 v4.300 M0.300 -3 v6.800 M3 0.800 v3" stroke="#d3d9e3" stroke-width="1.700" fill="none"/></g><g transform="translate(224.15 2820.5)"><path d="M-3.800 -2.200 H2 a2.600 2.600 0 0 1 0 5.200 H-3.800" fill="none" stroke="#d3d9e3" stroke-width="1.200"/><path d="M-2.800 -4.400 l-2.800 2.200 l2.800 2.200 z" fill="#d3d9e3"/></g><g transform="translate(224.15 2844.5)"><path d="M-4.600 -3.200 h9.200 M-4.600 0 h5.600 M-4.600 3.200 h9.200" stroke="#d3d9e3" stroke-width="1.200" fill="none"/><path d="M2.500 -1.700 l2.600 1.700 l-2.600 1.700 z" fill="#d3d9e3"/></g>
<text x="270.5" y="2459" font-size="6.8" fill="#8f8f8f" text-anchor="middle" font-weight="400" letter-spacing="0" >病害统计</text>
<text x="316" y="2459" font-size="6.8" fill="#8f8f8f" text-anchor="middle" font-weight="400" letter-spacing="0" >巡查统计</text>
<text x="361.5" y="2459" font-size="6.8" fill="#333" text-anchor="middle" font-weight="400" letter-spacing="0" >养护统计</text>
<path d="M249 2465 H1031" stroke="#e8e8e8" stroke-width="0.8"/><path d="M347.500 2464.400 H375.500" stroke="#444" stroke-width="1"/>
<rect x="1041" y="2439.500" width="3.800" height="203" rx="1.800" fill="#bcbcc0"/>
<rect x="248.5" y="2474" width="144.8" height="43" rx="2" fill="#6f8cb8"/>
<text x="257.0" y="2487.2" font-size="7.7" fill="#fff" text-anchor="start" font-weight="400" letter-spacing="0" >今日新增养护任务</text>
<circle cx="383.3" cy="2485" r="2.600" fill="none" stroke="#fff" stroke-width="0.7"/>
<text x="383.3" y="2486.6" font-size="4" fill="#fff" text-anchor="middle" font-weight="700" letter-spacing="0" >i</text>
<text x="310.5" y="2508.6" font-size="21" fill="#fff" text-anchor="middle" font-weight="700" letter-spacing="0" >0</text>
<text x="320.0" y="2508.5" font-size="6" fill="#fff" text-anchor="start" font-weight="400" letter-spacing="0" >起</text>
<text x="362.3" y="2501" font-size="5.8" fill="#fff" text-anchor="start" font-weight="500" letter-spacing="0" >环比</text>
<text x="362.3" y="2509" font-size="5.8" fill="#fff" text-anchor="start" font-weight="400" letter-spacing="0" >0%</text>
<path d="M378.8 2509.5 v-6 m-2.2 2.300 l2.200 -2.400 l2.200 2.400" stroke="#fff" stroke-width="0.9" fill="none"/>
<rect x="399.3" y="2474" width="144.99999999999994" height="43" rx="2" fill="#2d5da8"/>
<text x="407.8" y="2487.2" font-size="7.7" fill="#fff" text-anchor="start" font-weight="400" letter-spacing="0" >累积养护任务</text>
<circle cx="534.3" cy="2485" r="2.600" fill="none" stroke="#fff" stroke-width="0.7"/>
<text x="534.3" y="2486.6" font-size="4" fill="#fff" text-anchor="middle" font-weight="700" letter-spacing="0" >i</text>
<text x="461.3" y="2508.6" font-size="21" fill="#fff" text-anchor="middle" font-weight="700" letter-spacing="0" >90</text>
<text x="476.8" y="2508.5" font-size="6" fill="#fff" text-anchor="start" font-weight="400" letter-spacing="0" >起</text>
<rect x="550.3" y="2474" width="91.20000000000005" height="43" rx="2" fill="#f06d6d"/>
<text x="558.8" y="2487.2" font-size="7.7" fill="#fff" text-anchor="start" font-weight="400" letter-spacing="0" >待批复</text>
<text x="582.3" y="2508.6" font-size="21" fill="#fff" text-anchor="middle" font-weight="700" letter-spacing="0" >1</text>
<text x="593.8" y="2508.5" font-size="6" fill="#fff" text-anchor="start" font-weight="400" letter-spacing="0" >起</text>
<text x="614.0" y="2501" font-size="5.8" fill="#fff" text-anchor="start" font-weight="500" letter-spacing="0" >环比</text>
<text x="614.0" y="2509" font-size="5.8" fill="#fff" text-anchor="start" font-weight="400" letter-spacing="0" >0%</text>
<path d="M630.5 2509.5 v-6 m-2.2 2.300 l2.200 -2.400 l2.200 2.400" stroke="#fff" stroke-width="0.9" fill="none"/>
<rect x="647.8" y="2474" width="91.70000000000005" height="43" rx="2" fill="#f28a26"/>
<text x="656.3" y="2487.2" font-size="7.7" fill="#fff" text-anchor="start" font-weight="400" letter-spacing="0" >待接收</text>
<text x="679.8" y="2508.6" font-size="21" fill="#fff" text-anchor="middle" font-weight="700" letter-spacing="0" >11</text>
<text x="696.8" y="2508.5" font-size="6" fill="#fff" text-anchor="start" font-weight="400" letter-spacing="0" >起</text>
<text x="712.0" y="2501" font-size="5.8" fill="#fff" text-anchor="start" font-weight="500" letter-spacing="0" >环比</text>
<text x="712.0" y="2509" font-size="5.8" fill="#fff" text-anchor="start" font-weight="400" letter-spacing="0" >0%</text>
<path d="M728.5 2509.5 v-6 m-2.2 2.300 l2.200 -2.400 l2.200 2.400" stroke="#fff" stroke-width="0.9" fill="none"/>
<rect x="745.2" y="2474" width="91.79999999999995" height="43" rx="2" fill="#e4be18"/>
<text x="753.7" y="2487.2" font-size="7.7" fill="#fff" text-anchor="start" font-weight="400" letter-spacing="0" >施工中</text>
<text x="777.2" y="2508.6" font-size="21" fill="#fff" text-anchor="middle" font-weight="700" letter-spacing="0" >40</text>
<text x="794.2" y="2508.5" font-size="6" fill="#fff" text-anchor="start" font-weight="400" letter-spacing="0" >起</text>
<text x="809.5" y="2501" font-size="5.8" fill="#fff" text-anchor="start" font-weight="500" letter-spacing="0" >环比</text>
<text x="809.5" y="2509" font-size="5.8" fill="#fff" text-anchor="start" font-weight="400" letter-spacing="0" >0%</text>
<path d="M826.0 2509.5 v-6 m-2.2 2.300 l2.200 -2.400 l2.200 2.400" stroke="#fff" stroke-width="0.9" fill="none"/>
<rect x="843" y="2474" width="91" height="43" rx="2" fill="#2fa5a0"/>
<text x="851.5" y="2487.2" font-size="7.7" fill="#fff" text-anchor="start" font-weight="400" letter-spacing="0" >待验收</text>
<text x="875" y="2508.6" font-size="21" fill="#fff" text-anchor="middle" font-weight="700" letter-spacing="0" >24</text>
<text x="892" y="2508.5" font-size="6" fill="#fff" text-anchor="start" font-weight="400" letter-spacing="0" >起</text>
<text x="906.5" y="2501" font-size="5.8" fill="#fff" text-anchor="start" font-weight="500" letter-spacing="0" >环比</text>
<text x="906.5" y="2509" font-size="5.8" fill="#fff" text-anchor="start" font-weight="400" letter-spacing="0" >0%</text>
<path d="M923.0 2509.5 v-6 m-2.2 2.300 l2.200 -2.400 l2.200 2.400" stroke="#fff" stroke-width="0.9" fill="none"/>
<rect x="940" y="2474" width="91.70000000000005" height="43" rx="2" fill="#40a26f"/>
<text x="948.5" y="2487.2" font-size="7.7" fill="#fff" text-anchor="start" font-weight="400" letter-spacing="0" >已完成</text>
<text x="972" y="2508.6" font-size="21" fill="#fff" text-anchor="middle" font-weight="700" letter-spacing="0" >14</text>
<text x="989" y="2508.5" font-size="6" fill="#fff" text-anchor="start" font-weight="400" letter-spacing="0" >起</text>
<text x="1004.2" y="2501" font-size="5.8" fill="#fff" text-anchor="start" font-weight="500" letter-spacing="0" >环比</text>
<text x="1004.2" y="2509" font-size="5.8" fill="#fff" text-anchor="start" font-weight="400" letter-spacing="0" >0%</text>
<path d="M1020.7 2509.5 v-6 m-2.2 2.300 l2.200 -2.400 l2.200 2.400" stroke="#fff" stroke-width="0.9" fill="none"/>
<g clip-path="url(#s2c)">
<rect x="248.5" y="2525" width="387.5" height="233.5" rx="2" fill="#f2f2f2"/>
<rect x="643.5" y="2525" width="387.5" height="233.5" rx="2" fill="#f2f2f2"/>
<rect x="248.5" y="2766.5" width="387.5" height="93.5" rx="2" fill="#f2f2f2"/>
<rect x="643.5" y="2766.5" width="387.5" height="93.5" rx="2" fill="#f2f2f2"/>
<text x="257.5" y="2540.6" font-size="7" fill="#222" text-anchor="start" font-weight="500" letter-spacing="0" >各管理处养护任务情况</text>
<rect x="433.7" y="2547" width="1.600" height="19" fill="#f06d6d"/>
<text x="442.5" y="2552.6" font-size="5.9" fill="#444" text-anchor="start" font-weight="400" letter-spacing="0" >待批复</text>
<text x="442.5" y="2564.3" font-size="11" fill="#f06d6d" text-anchor="start" font-weight="700" letter-spacing="0" >1</text>
<rect x="469.8" y="2547" width="1.600" height="19" fill="#f28a26"/>
<text x="478.6" y="2552.6" font-size="5.9" fill="#444" text-anchor="start" font-weight="400" letter-spacing="0" >待接收</text>
<text x="478.6" y="2564.3" font-size="11" fill="#f28a26" text-anchor="start" font-weight="700" letter-spacing="0" >48</text>
<rect x="505.9" y="2547" width="1.600" height="19" fill="#e4be18"/>
<text x="514.7" y="2552.6" font-size="5.9" fill="#444" text-anchor="start" font-weight="400" letter-spacing="0" >施工中</text>
<text x="514.7" y="2564.3" font-size="11" fill="#e4be18" text-anchor="start" font-weight="700" letter-spacing="0" >83</text>
<rect x="542.0" y="2547" width="1.600" height="19" fill="#2fa5a0"/>
<text x="550.8" y="2552.6" font-size="5.9" fill="#444" text-anchor="start" font-weight="400" letter-spacing="0" >待验收</text>
<text x="550.8" y="2564.3" font-size="11" fill="#2fa5a0" text-anchor="start" font-weight="700" letter-spacing="0" >63</text>
<rect x="578.1" y="2547" width="1.600" height="19" fill="#40b07a"/>
<text x="586.9" y="2552.6" font-size="5.9" fill="#444" text-anchor="start" font-weight="400" letter-spacing="0" >已完成</text>
<text x="586.9" y="2564.3" font-size="11" fill="#40b07a" text-anchor="start" font-weight="700" letter-spacing="0" >20</text>
<text x="270" y="2561.5" font-size="4" fill="#555" text-anchor="middle" font-weight="400" letter-spacing="0" >次数</text>
<path d="M278.500 2568.0 H612.500" stroke="#8f9dc4" stroke-width="0.6" stroke-dasharray="1.5 1.2"/>
<text x="275.5" y="2569.4" font-size="4.1" fill="#555" text-anchor="end" font-weight="400" letter-spacing="0" >100</text>
<path d="M278.500 2602.5 H612.500" stroke="#8f9dc4" stroke-width="0.6" stroke-dasharray="1.5 1.2"/>
<text x="275.5" y="2603.9" font-size="4.1" fill="#555" text-anchor="end" font-weight="400" letter-spacing="0" >80</text>
<path d="M278.500 2637.0 H612.500" stroke="#8f9dc4" stroke-width="0.6" stroke-dasharray="1.5 1.2"/>
<text x="275.5" y="2638.4" font-size="4.1" fill="#555" text-anchor="end" font-weight="400" letter-spacing="0" >60</text>
<path d="M278.500 2671.5 H612.500" stroke="#8f9dc4" stroke-width="0.6" stroke-dasharray="1.5 1.2"/>
<text x="275.5" y="2672.9" font-size="4.1" fill="#555" text-anchor="end" font-weight="400" letter-spacing="0" >40</text>
<path d="M278.500 2706.0 H612.500" stroke="#8f9dc4" stroke-width="0.6" stroke-dasharray="1.5 1.2"/>
<text x="275.5" y="2707.4" font-size="4.1" fill="#555" text-anchor="end" font-weight="400" letter-spacing="0" >20</text>
<path d="M278.500 2740.5 H612.500" stroke="#7f93c8" stroke-width="0.8"/>
<text x="275.5" y="2741.9" font-size="4.1" fill="#555" text-anchor="end" font-weight="400" letter-spacing="0" >0</text>
<rect x="304" y="2671.5" width="16" height="21.0" fill="#da7a20"/>
<text x="312" y="2676.1" font-size="3.4" fill="#fff" text-anchor="middle" font-weight="700" letter-spacing="0" >12</text>
<rect x="304" y="2692.5" width="16" height="29.5" fill="#dcb614"/>
<text x="312" y="2697.1" font-size="3.4" fill="#fff" text-anchor="middle" font-weight="700" letter-spacing="0" >17</text>
<rect x="304" y="2722.0" width="16" height="14.0" fill="#268074"/>
<text x="312" y="2726.6" font-size="3.4" fill="#fff" text-anchor="middle" font-weight="700" letter-spacing="0" >8</text>
<rect x="304" y="2736.0" width="16" height="4.5" fill="#3fa873"/>
<text x="312" y="2740.6" font-size="3.4" fill="#fff" text-anchor="middle" font-weight="700" letter-spacing="0" >3</text>
<text x="312" y="2746.6" font-size="4.2" fill="#555" text-anchor="middle" font-weight="400" letter-spacing="0" >东部高速</text>
<rect x="370.5" y="2584.5" width="16" height="1.0" fill="#f06d6d"/>
<rect x="370.5" y="2585.5" width="16" height="20.5" fill="#f28a26"/>
<text x="378.5" y="2590.1" font-size="3.4" fill="#fff" text-anchor="middle" font-weight="700" letter-spacing="0" >6</text>
<rect x="370.5" y="2606.0" width="16" height="69.0" fill="#e4be18"/>
<text x="378.5" y="2610.6" font-size="3.4" fill="#fff" text-anchor="middle" font-weight="700" letter-spacing="0" >40</text>
<rect x="370.5" y="2675.0" width="16" height="41.5" fill="#2fa5a0"/>
<text x="378.5" y="2679.6" font-size="3.4" fill="#fff" text-anchor="middle" font-weight="700" letter-spacing="0" >24</text>
<rect x="370.5" y="2716.5" width="16" height="24.0" fill="#40b87c"/>
<text x="378.5" y="2721.1" font-size="3.4" fill="#fff" text-anchor="middle" font-weight="700" letter-spacing="0" >14</text>
<text x="378.5" y="2746.6" font-size="4.2" fill="#555" text-anchor="middle" font-weight="400" letter-spacing="0" >京沪</text>
<rect x="437.5" y="2727.0" width="16" height="7.0" fill="#f28a26"/>
<text x="445.5" y="2731.6" font-size="3.4" fill="#fff" text-anchor="middle" font-weight="700" letter-spacing="0" >4</text>
<rect x="437.5" y="2734.0" width="16" height="5.0" fill="#e4be18"/>
<text x="445.5" y="2738.6" font-size="3.4" fill="#fff" text-anchor="middle" font-weight="700" letter-spacing="0" >3</text>
<rect x="437.5" y="2739.0" width="16" height="1.5" fill="#2fa5a0"/>
<text x="445.5" y="2746.6" font-size="4.2" fill="#555" text-anchor="middle" font-weight="400" letter-spacing="0" >宁靖盐</text>
<rect x="504.5" y="2647.5" width="16" height="19.0" fill="#f28a26"/>
<text x="512.5" y="2652.1" font-size="3.4" fill="#fff" text-anchor="middle" font-weight="700" letter-spacing="0" >11</text>
<rect x="504.5" y="2666.5" width="16" height="32.5" fill="#e4be18"/>
<text x="512.5" y="2671.1" font-size="3.4" fill="#fff" text-anchor="middle" font-weight="700" letter-spacing="0" >19</text>
<rect x="504.5" y="2699.0" width="16" height="39.0" fill="#2fa5a0"/>
<text x="512.5" y="2703.6" font-size="3.4" fill="#fff" text-anchor="middle" font-weight="700" letter-spacing="0" >22</text>
<rect x="504.5" y="2738.0" width="16" height="2.5" fill="#40b87c"/>
<text x="512.5" y="2746.6" font-size="4.2" fill="#555" text-anchor="middle" font-weight="400" letter-spacing="0" >淮连盐</text>
<rect x="571" y="2701.0" width="16" height="17.5" fill="#f28a26"/>
<text x="579" y="2705.6" font-size="3.4" fill="#fff" text-anchor="middle" font-weight="700" letter-spacing="0" >10</text>
<rect x="571" y="2718.5" width="16" height="7.0" fill="#e4be18"/>
<text x="579" y="2723.1" font-size="3.4" fill="#fff" text-anchor="middle" font-weight="700" letter-spacing="0" >4</text>
<rect x="571" y="2725.5" width="16" height="15.0" fill="#2fa5a0"/>
<text x="579" y="2730.1" font-size="3.4" fill="#fff" text-anchor="middle" font-weight="700" letter-spacing="0" >9</text>
<text x="579" y="2746.6" font-size="4.2" fill="#555" text-anchor="middle" font-weight="400" letter-spacing="0" >徐淮</text>
<text x="257.5" y="2781.6" font-size="7" fill="#222" text-anchor="start" font-weight="500" letter-spacing="0" >各养护中心任务情况</text>
<rect x="433.7" y="2788.3" width="1.600" height="19" fill="#f06d6d"/>
<text x="442.5" y="2793.9" font-size="5.9" fill="#444" text-anchor="start" font-weight="400" letter-spacing="0" >待批复</text>
<text x="442.5" y="2805.6000000000004" font-size="11" fill="#f06d6d" text-anchor="start" font-weight="700" letter-spacing="0" >0</text>
<rect x="469.8" y="2788.3" width="1.600" height="19" fill="#f28a26"/>
<text x="478.6" y="2793.9" font-size="5.9" fill="#444" text-anchor="start" font-weight="400" letter-spacing="0" >待接收</text>
<text x="478.6" y="2805.6000000000004" font-size="11" fill="#f28a26" text-anchor="start" font-weight="700" letter-spacing="0" >12</text>
<rect x="505.9" y="2788.3" width="1.600" height="19" fill="#e4be18"/>
<text x="514.7" y="2793.9" font-size="5.9" fill="#444" text-anchor="start" font-weight="400" letter-spacing="0" >施工中</text>
<text x="514.7" y="2805.6000000000004" font-size="11" fill="#e4be18" text-anchor="start" font-weight="700" letter-spacing="0" >17</text>
<rect x="542.0" y="2788.3" width="1.600" height="19" fill="#2fa5a0"/>
<text x="550.8" y="2793.9" font-size="5.9" fill="#444" text-anchor="start" font-weight="400" letter-spacing="0" >待验收</text>
<text x="550.8" y="2805.6000000000004" font-size="11" fill="#2fa5a0" text-anchor="start" font-weight="700" letter-spacing="0" >8</text>
<rect x="578.1" y="2788.3" width="1.600" height="19" fill="#40b07a"/>
<text x="586.9" y="2793.9" font-size="5.9" fill="#444" text-anchor="start" font-weight="400" letter-spacing="0" >已完成</text>
<text x="586.9" y="2805.6000000000004" font-size="11" fill="#40b07a" text-anchor="start" font-weight="700" letter-spacing="0" >3</text>
<text x="270" y="2802.5" font-size="4" fill="#555" text-anchor="middle" font-weight="400" letter-spacing="0" >次数</text>
<text x="275.5" y="2809.8" font-size="3.6" fill="#555" text-anchor="end" font-weight="400" letter-spacing="0" >20</text>
<path d="M278.500 2808.500 H612.500" stroke="#8f9dc4" stroke-width="0.6" stroke-dasharray="1.5 1.2"/>
<rect x="310" y="2809" width="16" height="45" fill="#f28a26"/>
<text x="318" y="2813.5" font-size="3.4" fill="#fff" text-anchor="middle" font-weight="700" letter-spacing="0" >6</text>
<text x="652" y="2540.6" font-size="6.8" fill="#222" text-anchor="start" font-weight="400" letter-spacing="0" >任务分布 -养护公司</text>
<path d="M773.11 2591.50 A58.5 58.5 0 0 1 830.00 2639.24" fill="none" stroke="#f28a26" stroke-width="15"/>
<path d="M773.09 2601.80 A48.2 48.2 0 0 1 819.86 2641.05" fill="none" stroke="#f28a26" stroke-width="2.6"/>
<path d="M830.51 2642.47 A58.5 58.5 0 0 1 734.58 2694.55" fill="none" stroke="#e4be18" stroke-width="15"/>
<path d="M820.31 2643.88 A48.2 48.2 0 0 1 741.32 2686.76" fill="none" stroke="#e4be18" stroke-width="2.6"/>
<path d="M733.66 2693.75 A58.5 58.5 0 0 1 740.13 2601.27" fill="none" stroke="#2fa5a0" stroke-width="15"/>
<path d="M740.44 2685.99 A48.2 48.2 0 0 1 745.76 2609.90" fill="none" stroke="#2fa5a0" stroke-width="2.6"/>
<path d="M741.15 2600.61 A58.5 58.5 0 0 1 771.89 2591.50" fill="none" stroke="#40a26f" stroke-width="15"/>
<path d="M746.74 2609.26 A48.2 48.2 0 0 1 771.91 2601.80" fill="none" stroke="#40a26f" stroke-width="2.6"/>
<text x="772.5" y="2641.3" font-size="6.6" fill="#888" text-anchor="middle" font-weight="400" letter-spacing="0" >累计任务</text>
<text x="772.5" y="2660.8" font-size="14.5" fill="#222" text-anchor="middle" font-weight="400" letter-spacing="0" >215</text>
<circle cx="902" cy="2594.0" r="2.300" fill="#f28a26"/>
<text x="909.5" y="2596.2" font-size="6" fill="#444" text-anchor="start" font-weight="400" letter-spacing="0" >待接收</text>
<text x="938.5" y="2596.3" font-size="6.3" fill="#f28a26" text-anchor="start" font-weight="400" letter-spacing="0" >22%</text>
<text x="979.5" y="2596.3" font-size="6.3" fill="#555" text-anchor="middle" font-weight="400" letter-spacing="0" >48</text>
<circle cx="902" cy="2618.5" r="2.300" fill="#f06d6d"/>
<text x="909.5" y="2620.7" font-size="6" fill="#444" text-anchor="start" font-weight="400" letter-spacing="0" >待批复</text>
<text x="938.5" y="2620.8" font-size="6.3" fill="#f06d6d" text-anchor="start" font-weight="400" letter-spacing="0" >0%</text>
<text x="979.5" y="2620.8" font-size="6.3" fill="#555" text-anchor="middle" font-weight="400" letter-spacing="0" >1</text>
<circle cx="902" cy="2643.0" r="2.300" fill="#e4be18"/>
<text x="909.5" y="2645.2" font-size="6" fill="#444" text-anchor="start" font-weight="400" letter-spacing="0" >施工中</text>
<text x="938.5" y="2645.3" font-size="6.3" fill="#e4be18" text-anchor="start" font-weight="400" letter-spacing="0" >39%</text>
<text x="979.5" y="2645.3" font-size="6.3" fill="#555" text-anchor="middle" font-weight="400" letter-spacing="0" >83</text>
<circle cx="902" cy="2667.5" r="2.300" fill="#2fa5a0"/>
<text x="909.5" y="2669.7" font-size="6" fill="#444" text-anchor="start" font-weight="400" letter-spacing="0" >待验收</text>
<text x="938.5" y="2669.8" font-size="6.3" fill="#2fa5a0" text-anchor="start" font-weight="400" letter-spacing="0" >29%</text>
<text x="979.5" y="2669.8" font-size="6.3" fill="#555" text-anchor="middle" font-weight="400" letter-spacing="0" >63</text>
<circle cx="902" cy="2692.0" r="2.300" fill="#40a26f"/>
<text x="909.5" y="2694.2" font-size="6" fill="#444" text-anchor="start" font-weight="400" letter-spacing="0" >已完成</text>
<text x="938.5" y="2694.3" font-size="6.3" fill="#40a26f" text-anchor="start" font-weight="400" letter-spacing="0" >9%</text>
<text x="979.5" y="2694.3" font-size="6.3" fill="#555" text-anchor="middle" font-weight="400" letter-spacing="0" >20</text>
<text x="652" y="2781.6" font-size="6.8" fill="#222" text-anchor="start" font-weight="400" letter-spacing="0" >任务分布 -东部高速</text>
<path d="M773.11 2832.50 A58.5 58.5 0 0 1 828.32 2908.49" fill="none" stroke="#f28a26" stroke-width="15"/>
<path d="M773.09 2842.80 A48.2 48.2 0 0 1 818.52 2905.33" fill="none" stroke="#f28a26" stroke-width="2.6"/>
<path d="M827.26 2911.58 A58.5 58.5 0 1 1 742.72 2840.65" fill="none" stroke="#e4be18" stroke-width="15"/>
<path d="M817.59 2908.04 A48.2 48.2 0 1 1 747.89 2849.56" fill="none" stroke="#e4be18" stroke-width="2.6"/>
<path d="M722.15 2861.22 A58.5 58.5 0 0 1 744.50 2839.64" fill="none" stroke="#2fa5a0" stroke-width="15"/>
<path d="M731.06 2866.39 A48.2 48.2 0 0 1 749.35 2848.72" fill="none" stroke="#2fa5a0" stroke-width="2.6"/>
<path d="M745.58 2839.06 A58.5 58.5 0 0 1 771.89 2832.50" fill="none" stroke="#40a26f" stroke-width="15"/>
<path d="M750.39 2848.17 A48.2 48.2 0 0 1 771.91 2842.80" fill="none" stroke="#40a26f" stroke-width="2.6"/>
<circle cx="902" cy="2835.0" r="2.300" fill="#f28a26"/>
<text x="909.5" y="2837.2" font-size="6" fill="#444" text-anchor="start" font-weight="400" letter-spacing="0" >待接收</text>
<text x="938.5" y="2837.3" font-size="6.3" fill="#f28a26" text-anchor="start" font-weight="400" letter-spacing="0" >30%</text>
<text x="979.5" y="2837.3" font-size="6.3" fill="#555" text-anchor="middle" font-weight="400" letter-spacing="0" >12</text>
</g>
</svg>

<svg style="left:0;top:2940px" width="1260" height="450" viewBox="0 2940 1260 450">
<defs><clipPath id="m3"><rect x="335" y="2952.500" width="509" height="427.500"/></clipPath><clipPath id="c3a"><rect x="342" y="2980" width="141.500" height="79"/></clipPath><clipPath id="c3b"><rect x="342" y="3066" width="141.500" height="79"/></clipPath></defs>
<rect x="335" y="2952.500" width="509" height="427.500" fill="#2f5a66"/>
<g clip-path="url(#m3)">
<polyline points="604.6,3084.0 596.3,3117.1 582.6,3144.6 566.1,3172.1 544.1,3205.1 527.6,3232.6 500.1,3260.1" fill="none" stroke="#4a7680" stroke-width="2.5" stroke-linejoin="round"/>
<polyline points="335.0,3188.6 362.5,3199.6 390.0,3216.1 406.5,3227.1" fill="none" stroke="#4a7680" stroke-width="2.5" stroke-linejoin="round"/>
<polyline points="845.0,3100.5 819.2,3117.1 797.1,3144.6 775.1,3177.6" fill="none" stroke="#4a7680" stroke-width="2.5" stroke-linejoin="round"/>
<polyline points="775.1,2952.0 753.1,2974.0 720.1,2985.0 687.1,3012.5 665.1,3023.5" fill="none" stroke="#4a7680" stroke-width="2.5" stroke-linejoin="round"/>
<polyline points="845.0,3018.0 819.2,3040.0 791.6,3062.0 764.1,3084.0 736.6,3089.5" fill="none" stroke="#4a7680" stroke-width="2.5" stroke-linejoin="round"/>
<polyline points="461.5,3331.6 478.0,3304.1 489.0,3282.1" fill="none" stroke="#4a7680" stroke-width="2.5" stroke-linejoin="round"/>
<polyline points="335.0,3260.1 357.0,3271.1 368.0,3295.9" fill="none" stroke="#4a7680" stroke-width="2.5" stroke-linejoin="round"/>
<polyline points="742.1,3155.6 775.1,3144.6 808.2,3155.6 845.0,3150.1" fill="none" stroke="#4a7680" stroke-width="2.5" stroke-linejoin="round"/>
<polyline points="571.6,2952.0 582.6,2974.0 604.6,2990.5 621.1,3007.0 643.1,3034.5 665.1,3062.0 692.6,3073.0" fill="none" stroke="#8fbcd6" stroke-width="0.9" stroke-linejoin="round" opacity="0.8"/>
<polyline points="720.1,3172.1 714.6,3199.6 692.6,3238.1 681.6,3265.6 676.1,3293.1 659.6,3326.1 665.1,3359.1 654.1,3380.6" fill="none" stroke="#8fbcd6" stroke-width="0.9" stroke-linejoin="round" opacity="0.8"/>
<polyline points="533.1,3260.1 538.6,3293.1 549.6,3320.6 555.1,3337.1 566.1,3370.1" fill="none" stroke="#8fbcd6" stroke-width="0.9" stroke-linejoin="round" opacity="0.8"/>
<polyline points="467.0,3320.6 483.5,3348.1 494.6,3380.6" fill="none" stroke="#8fbcd6" stroke-width="0.9" stroke-linejoin="round" opacity="0.8"/>
<polyline points="489.0,3084.0 516.6,3073.0 544.1,3045.5 571.6,3051.0 593.6,3067.5 621.1,3084.0" fill="none" stroke="#8fbcd6" stroke-width="0.9" stroke-linejoin="round" opacity="0.8"/>
<polyline points="571.6,3210.6 560.6,3194.1 577.1,3183.1 593.6,3172.1 621.1,3169.3" fill="none" stroke="#8fbcd6" stroke-width="0.9" stroke-linejoin="round" opacity="0.8"/>
<polyline points="845.0,3172.1 819.2,3183.1 802.6,3177.6" fill="none" stroke="#8fbcd6" stroke-width="0.9" stroke-linejoin="round" opacity="0.8"/>
<polyline points="643.1,2952.0 665.1,2963.0 687.1,2957.5" fill="none" stroke="#8fbcd6" stroke-width="0.9" stroke-linejoin="round" opacity="0.8"/>
<ellipse cx="500.1" cy="3110.5" rx="3.9" ry="1.9" fill="#a6c8e6"/>
<ellipse cx="483.5" cy="3227.1" rx="2.8" ry="1.7" fill="#a6c8e6"/>
<ellipse cx="566.1" cy="3356.4" rx="4.4" ry="2.5" fill="#a6c8e6"/>
<ellipse cx="651.4" cy="3356.4" rx="4.4" ry="2.8" fill="#a6c8e6"/>
<ellipse cx="472.5" cy="3331.6" rx="2.8" ry="2.2" fill="#a6c8e6"/>
<polyline points="335.0,3309.6 368.0,3295.9 406.5,3284.9 445.0,3281.0 475.3,3271.1 500.1,3262.8 538.6,3246.3 566.1,3227.1 599.1,3199.6 632.1,3180.3 665.1,3169.3 692.6,3150.1 714.6,3117.1 736.6,3089.5 753.1,3059.3 764.1,3034.5 775.1,3012.5" fill="none" stroke="#3d7c86" stroke-width="3.2" stroke-linejoin="round"/>
<polyline points="335.0,3309.6 368.0,3295.9 406.5,3284.9 445.0,3281.0 475.3,3271.1 500.1,3262.8 538.6,3246.3 566.1,3227.1 599.1,3199.6 632.1,3180.3 665.1,3169.3 692.6,3150.1 714.6,3117.1 736.6,3089.5 753.1,3059.3 764.1,3034.5 775.1,3012.5" fill="none" stroke="#15323d" stroke-width="2" stroke-linejoin="round"/>
<polyline points="714.6,3117.1 742.1,3155.6 775.1,3177.6 808.2,3202.3 845.0,3227.1" fill="none" stroke="#3d7c86" stroke-width="3.2" stroke-linejoin="round"/>
<polyline points="714.6,3117.1 742.1,3155.6 775.1,3177.6 808.2,3202.3 845.0,3227.1" fill="none" stroke="#15323d" stroke-width="2" stroke-linejoin="round"/>
<polyline points="401.0,2952.0 403.8,2979.5 409.3,3062.0 417.5,3150.1 412.0,3183.1 390.0,3216.1 373.5,3249.1 362.5,3282.1 335.0,3304.1" fill="none" stroke="#3d7c86" stroke-width="3.2" stroke-linejoin="round"/>
<polyline points="401.0,2952.0 403.8,2979.5 409.3,3062.0 417.5,3150.1 412.0,3183.1 390.0,3216.1 373.5,3249.1 362.5,3282.1 335.0,3304.1" fill="none" stroke="#15323d" stroke-width="2" stroke-linejoin="round"/>
<path d="M752.0 3064.8 L748.8 3060.6000000000004 A3.9 3.9 0 1 1 755.2 3060.6000000000004 Z" fill="#f59a23"/><circle cx="752.0" cy="3058.5" r="2" fill="none" stroke="#fff" stroke-width="0.45"/>
<path d="M742.1 3083.0 L738.9 3078.8 A3.9 3.9 0 1 1 745.3000000000001 3078.8 Z" fill="#f59a23"/><circle cx="742.1" cy="3076.7" r="2" fill="none" stroke="#fff" stroke-width="0.45"/>
<path d="M733.9 3096.7 L730.6999999999999 3092.5 A3.9 3.9 0 1 1 737.1 3092.5 Z" fill="#f59a23"/><circle cx="733.9" cy="3090.3999999999996" r="2" fill="none" stroke="#fff" stroke-width="0.45"/>
<path d="M714.6 3116.6 L711.4 3112.4 A3.9 3.9 0 1 1 717.8000000000001 3112.4 Z" fill="#6cc08b"/><circle cx="714.6" cy="3110.2999999999997" r="2" fill="none" stroke="#fff" stroke-width="0.45"/>
<path d="M710.8 3123.7 L707.5999999999999 3119.5 A3.9 3.9 0 1 1 714.0 3119.5 Z" fill="#f59a23"/><circle cx="710.8" cy="3117.3999999999996" r="2" fill="none" stroke="#fff" stroke-width="0.45"/>
<path d="M704.2 3138.6 L701.0 3134.4 A3.9 3.9 0 1 1 707.4000000000001 3134.4 Z" fill="#f59a23"/><circle cx="704.2" cy="3132.2999999999997" r="2" fill="none" stroke="#fff" stroke-width="0.45"/>
<path d="M697.0 3149.6 L693.8 3145.4 A3.9 3.9 0 1 1 700.2 3145.4 Z" fill="#6cc08b"/><circle cx="697.0" cy="3143.2999999999997" r="2" fill="none" stroke="#fff" stroke-width="0.45"/>
<path d="M693.2 3155.1 L690.0 3150.9 A3.9 3.9 0 1 1 696.4000000000001 3150.9 Z" fill="#f59a23"/><circle cx="693.2" cy="3148.7999999999997" r="2" fill="none" stroke="#fff" stroke-width="0.45"/>
<path d="M623.8 3187.0 L620.5999999999999 3182.8 A3.9 3.9 0 1 1 627.0 3182.8 Z" fill="#f59a23"/><circle cx="623.8" cy="3180.7" r="2" fill="none" stroke="#fff" stroke-width="0.45"/>
<path d="M607.3 3196.3 L604.0999999999999 3192.1000000000004 A3.9 3.9 0 1 1 610.5 3192.1000000000004 Z" fill="#f59a23"/><circle cx="607.3" cy="3190.0" r="2" fill="none" stroke="#fff" stroke-width="0.45"/>
<path d="M571.6 3223.3 L568.4 3219.1000000000004 A3.9 3.9 0 1 1 574.8000000000001 3219.1000000000004 Z" fill="#6cc08b"/><circle cx="571.6" cy="3217.0" r="2" fill="none" stroke="#fff" stroke-width="0.45"/>
<path d="M541.9 3246.9 L538.6999999999999 3242.7000000000003 A3.9 3.9 0 1 1 545.1 3242.7000000000003 Z" fill="#6cc08b"/><circle cx="541.9" cy="3240.6" r="2" fill="none" stroke="#fff" stroke-width="0.45"/>
<path d="M515.5 3265.1 L512.3 3260.9 A3.9 3.9 0 1 1 518.7 3260.9 Z" fill="#f59a23"/><circle cx="515.5" cy="3258.7999999999997" r="2" fill="none" stroke="#fff" stroke-width="0.45"/>
<path d="M510.0 3266.7 L506.8 3262.5 A3.9 3.9 0 1 1 513.2 3262.5 Z" fill="#f59a23"/><circle cx="510.0" cy="3260.3999999999996" r="2" fill="none" stroke="#fff" stroke-width="0.45"/>
<path d="M504.5 3267.8 L501.3 3263.6000000000004 A3.9 3.9 0 1 1 507.7 3263.6000000000004 Z" fill="#f59a23"/><circle cx="504.5" cy="3261.5" r="2" fill="none" stroke="#fff" stroke-width="0.45"/>
<path d="M499.0 3269.5 L495.8 3265.3 A3.9 3.9 0 1 1 502.2 3265.3 Z" fill="#f59a23"/><circle cx="499.0" cy="3263.2" r="2" fill="none" stroke="#fff" stroke-width="0.45"/>
<path d="M479.1 3272.3 L475.90000000000003 3268.1000000000004 A3.9 3.9 0 1 1 482.3 3268.1000000000004 Z" fill="#f59a23"/><circle cx="479.1" cy="3266.0" r="2" fill="none" stroke="#fff" stroke-width="0.45"/>
<path d="M472.5 3274.5 L469.3 3270.3 A3.9 3.9 0 1 1 475.7 3270.3 Z" fill="#f59a23"/><circle cx="472.5" cy="3268.2" r="2" fill="none" stroke="#fff" stroke-width="0.45"/>
<path d="M464.8 3275.6 L461.6 3271.4 A3.9 3.9 0 1 1 468.0 3271.4 Z" fill="#f59a23"/><circle cx="464.8" cy="3269.2999999999997" r="2" fill="none" stroke="#fff" stroke-width="0.45"/>
<path d="M457.7 3277.2 L454.5 3273.0 A3.9 3.9 0 1 1 460.9 3273.0 Z" fill="#f59a23"/><circle cx="457.7" cy="3270.8999999999996" r="2" fill="none" stroke="#fff" stroke-width="0.45"/>
<path d="M485.2 3277.8 L482.0 3273.6000000000004 A3.9 3.9 0 1 1 488.4 3273.6000000000004 Z" fill="#6cc08b"/><circle cx="485.2" cy="3271.5" r="2" fill="none" stroke="#fff" stroke-width="0.45"/>
<rect x="473.6" y="3276.6" width="4.500" height="6" fill="#2a2118"/>
<text x="755.9" y="3037.3" font-size="3.6" fill="#d8e4e8" text-anchor="middle" font-weight="400" letter-spacing="0" transform="rotate(-62 755.9 3037.3)">黄冕高速</text>
<text x="728.4" y="3139.1" font-size="3.6" fill="#d8e4e8" text-anchor="middle" font-weight="400" letter-spacing="0" transform="rotate(50 728.4 3139.1)">黄冕高速</text>
<text x="670.6" y="3172.1" font-size="3.6" fill="#d8e4e8" text-anchor="middle" font-weight="400" letter-spacing="0" transform="rotate(-22 670.6 3172.1)">黄冕高速</text>
<text x="610.1" y="3196.8" font-size="3.6" fill="#d8e4e8" text-anchor="middle" font-weight="400" letter-spacing="0" transform="rotate(-35 610.1 3196.8)">黄冕高速</text>
<text x="447.8" y="3281.0" font-size="3.6" fill="#d8e4e8" text-anchor="middle" font-weight="400" letter-spacing="0" transform="rotate(-5 447.8 3281.0)">黄冕高速</text>
<text x="813.7" y="3206.2" font-size="3.6" fill="#d8e4e8" text-anchor="middle" font-weight="400" letter-spacing="0" transform="rotate(30 813.7 3206.2)">黄冕高速</text>
<text x="376.3" y="3260.1" font-size="3.6" fill="#d8e4e8" text-anchor="middle" font-weight="400" letter-spacing="0" transform="rotate(-70 376.3 3260.1)">黄冕高速</text>
</g>
<rect x="491.500" y="3239" width="46.500" height="15" rx="7.500" fill="#1f2126"/>
<text x="514.7" y="3245.3" font-size="4" fill="#fff" text-anchor="middle" font-weight="400" letter-spacing="0" >全州</text>
<text x="514.7" y="3251.2" font-size="4" fill="#fff" text-anchor="middle" font-weight="400" letter-spacing="0" >G59  k2188+800</text>
<defs><filter id="bl3" x="-5%" y="-5%" width="110%" height="110%"><feGaussianBlur stdDeviation="0.55"/></filter><linearGradient id="sk1" x1="0" y1="0" x2="1" y2="1"><stop offset="0" stop-color="#a6a6ab"/><stop offset="1" stop-color="#c9cacc"/></linearGradient><linearGradient id="sk2" x1="0" y1="0" x2="0" y2="1"><stop offset="0" stop-color="#cbd3da"/><stop offset="1" stop-color="#e3e6e8"/></linearGradient></defs>
<g clip-path="url(#c3a)"><g transform="translate(342.500 2980)" filter="url(#bl3)">
<rect x="-2" y="-2" width="146" height="84" fill="#7a817c"/>
<rect x="-2" y="-2" width="146" height="34" fill="url(#sk1)"/>
<polygon points="-2,25 40,24 75,29 141,32 144,32 144,44 -2,44" fill="#838b86"/>
<polygon points="-2,30 30,30 70,34 60,44 -2,47" fill="#66735f"/>
<rect x="0" y="16" width="18" height="6" fill="#8f949c"/><rect x="7.500" y="22" width="1.500" height="22" fill="#8a8d90"/>
<polygon points="-2,49 62,38 80,37 42,60 -2,64" fill="#a2a19d"/>
<polygon points="-2,63 42,59 60,47 52,58 30,66 -2,70" fill="#56624c"/>
<polygon points="46,82 50,56 84,37 88,38 78,60 75,82" fill="#8d8c89"/>
<polygon points="-2,82 4,68 40,55 48,62 47,82" fill="#2b2c35"/>
<polygon points="55,44 68,41 70,58 58,60" fill="#d2cfc9"/><rect x="49.500" y="48" width="5" height="5.500" rx="1" fill="#dcdcdc"/>
<polygon points="75,82 80,50 84,40 144,35 144,82" fill="#4d5f47"/>
<polygon points="95,40 144,36 144,50 110,52" fill="#6c7c62"/>
<path d="M62 82 L83 42" stroke="#c9c6bd" stroke-width="0.8" fill="none"/>
</g></g>
<circle cx="477.500" cy="2986" r="4.300" fill="#3a3c40" opacity="0.900"/><path d="M475.700 2984.2 l3.600 3.600 m0 -3.600 l-3.600 3.600" stroke="#fff" stroke-width="0.900"/>
<text x="471.5" y="2985.6" font-size="3.4" fill="#3a3a3a" text-anchor="end" font-weight="700" letter-spacing="0" >2020-09-08 10:07:48 西江</text>
<text x="346" y="3055.3" font-size="3.5" fill="#f2f2f2" text-anchor="start" font-weight="700" letter-spacing="0" >IP PTZ Dome</text>
<g clip-path="url(#c3b)"><g transform="translate(342.500 3066)" filter="url(#bl3)">
<rect x="-2" y="-2" width="146" height="84" fill="#7a817c"/>
<rect x="-2" y="-2" width="146" height="26" fill="url(#sk2)"/>
<polygon points="-2,24 15,20 40,17 60,21 95,22 120,19 144,21 144,36 -2,36" fill="#50695a"/>
<rect x="35" y="20" width="10" height="4.500" fill="#6f9fd2"/><rect x="45" y="19.500" width="9" height="5" fill="#e0678b"/>
<rect x="132" y="16" width="12" height="12" fill="#d6d9da"/>
<polygon points="-2,30 144,33 144,82 -2,82" fill="#85868a"/>
<polygon points="30,45 144,55 144,82 60,82" fill="#7b7c80"/>
<polygon points="-2,33 6,38 14,55 25,82 -2,82" fill="#3f5a3b"/>
<rect x="8" y="26.500" width="84" height="4.500" fill="#2c4464"/>
<rect x="66" y="25.500" width="14" height="4.200" fill="#e8a21c"/><rect x="88" y="25" width="10" height="3" fill="#3a8a58"/>
<g fill="#b8452f"><rect x="27" y="31" width="3" height="9"/><rect x="57" y="31" width="3" height="8"/><rect x="88" y="31" width="2.500" height="8"/></g><g fill="#e9e9e6"><rect x="62" y="33" width="4" height="13"/><rect x="78" y="33" width="4" height="12"/><rect x="98" y="35" width="3" height="9"/><rect x="108" y="35" width="3" height="9"/></g><g fill="#30353d"><rect x="20" y="31" width="6" height="8"/><rect x="38" y="33" width="7" height="8"/><rect x="48" y="32" width="7" height="8"/><rect x="68" y="33" width="8" height="7"/></g>
<rect x="124" y="37" width="20" height="3" fill="#e2623a"/>
<g fill="#d9a428"><polygon points="72,56 84,52 90,58 78,62"/><polygon points="93,50 104,47 108,52 97,55"/><polygon points="112,46 121,44 124,48 115,50"/><polygon points="125,47 134,45 137,49 128,51"/><rect x="27" y="46" width="8" height="3.500"/></g><g fill="#3f78c4"><rect x="84" y="54" width="4.500" height="3"/><rect x="106" y="51" width="4" height="2.500"/></g>
<path d="M10 -2 L17 66" stroke="#cfd5d8" stroke-width="1.100" fill="none"/>
<path d="M44 62 q1 -4 5 -4 h8 q4 1 6 6 l0.500 6 q-1 3 -5 3.500 h-9 q-4 -1 -5 -5 z" fill="#eef0f2"/><path d="M50 60 h7 l3 5 h-11 z" fill="#56616c"/>
<path d="M100 60 l40 12" stroke="#b9bbbd" stroke-width="2.500" opacity="0.700"/>
</g></g>
<circle cx="477.500" cy="3072" r="4.300" fill="#3a3c40" opacity="0.900"/><path d="M475.700 3070.2 l3.600 3.600 m0 -3.600 l-3.600 3.600" stroke="#fff" stroke-width="0.900"/>
<text x="471.5" y="3071.6" font-size="3.4" fill="#3a3a3a" text-anchor="end" font-weight="700" letter-spacing="0" >2020-09-08 10:07:48 西江</text>
<text x="346" y="3141.3" font-size="3.5" fill="#f2f2f2" text-anchor="start" font-weight="700" letter-spacing="0" >IP PTZ Dome</text>
<circle cx="351.500" cy="2963.500" r="7.600" fill="#23252b"/><path d="M346 2961 l8 2.500 l-1.300 3.300 l-8 -2.600 z M352.500 2966.500 l3 1.500" fill="#fff" stroke="#fff" stroke-width="0.8"/>
<circle cx="371.500" cy="2963.500" r="7.600" fill="#3eb6d8"/><ellipse cx="371.500" cy="2964.300" rx="2.700" ry="3.300" fill="#fff"/><path d="M367.200 2961.800 l8.600 5 m0 -5 l-8.600 5 m0 -2.500 h8.600" stroke="#fff" stroke-width="0.7"/>
<circle cx="829" cy="2963.500" r="7.600" fill="#1f2126"/><path d="M826 2965 a2.200 2.200 0 0 1 0.500 -4.300 a3 3 0 0 1 5.600 0.600 a1.900 1.900 0 0 1 -0.300 3.700 z" fill="none" stroke="#fff" stroke-width="0.9"/>
<rect x="575.500" y="3115" width="105" height="53.500" fill="#232328"/>
<text x="582" y="3126.5" font-size="4.4" fill="#3fb3d3" text-anchor="start" font-weight="400" letter-spacing="0" >△交安</text>
<text x="603" y="3126.5" font-size="4.2" fill="#3fb3d3" text-anchor="start" font-weight="400" letter-spacing="0" >G59  k2206+10</text>
<text x="643.5" y="3126.5" font-size="4.4" fill="#3fb3d3" text-anchor="start" font-weight="400" letter-spacing="0" >兴安方向</text>
<text x="582" y="3136.5" font-size="4.3" fill="#fff" text-anchor="start" font-weight="400" letter-spacing="0" >交安及沿线设施-护栏（栏</text>
<text x="582" y="3144" font-size="4.3" fill="#fff" text-anchor="start" font-weight="400" letter-spacing="0" >杆）-防撞护栏板损坏</text>
<rect x="582" y="3147.500" width="8" height="5" fill="#3fb3d3"/><rect x="582" y="3155" width="8" height="5" fill="#3fb3d3"/>
<text x="582.6" y="3151.7" font-size="3.6" fill="#123" text-anchor="start" font-weight="400" letter-spacing="0" >数量</text>
<text x="592" y="3151.9" font-size="4.3" fill="#fff" text-anchor="start" font-weight="400" letter-spacing="0" >2 块</text>
<text x="582.6" y="3159.2" font-size="3.6" fill="#123" text-anchor="start" font-weight="400" letter-spacing="0" >位置</text>
<text x="592" y="3159.4" font-size="4.3" fill="#fff" text-anchor="start" font-weight="400" letter-spacing="0" >道路外围栏</text>
<circle cx="648.500" cy="3142.5" r="2.300" fill="none" stroke="#3aa655" stroke-width="0.8"/>
<text x="655" y="3144.0" font-size="4.2" fill="#fff" text-anchor="start" font-weight="400" letter-spacing="0" >无</text>
<circle cx="648.500" cy="3150.1" r="2.300" fill="none" stroke="#e8202a" stroke-width="0.8"/>
<text x="655" y="3151.6" font-size="4.2" fill="#fff" text-anchor="start" font-weight="400" letter-spacing="0" >立即处理</text>
<circle cx="648.500" cy="3157.7" r="2.300" fill="none" stroke="#e8202a" stroke-width="0.8"/>
<text x="655" y="3159.2" font-size="4.2" fill="#fff" text-anchor="start" font-weight="400" letter-spacing="0" >无</text>
<rect x="697.500" y="2973" width="146.500" height="50.500" fill="#232328"/>
<text x="700" y="2980.3" font-size="4.3" fill="#3fb3d3" text-anchor="start" font-weight="700" letter-spacing="0" >G59 k2188+800桩西断面平均速度</text>
<text x="837" y="2980.6" font-size="6" fill="#ddd" text-anchor="start" font-weight="400" letter-spacing="0" >×</text>
<rect x="708" y="2985" width="127" height="29" fill="#3fae66"/>
<path d="M708 2986.800 H835" stroke="#7fe09d" stroke-width="1.200"/>
<g stroke="#2f9657" stroke-width="0.4"><path d="M712.2 2987.500 V3014"/><path d="M716.4 2987.500 V3014"/><path d="M720.6 2987.500 V3014"/><path d="M724.8 2987.500 V3014"/><path d="M729.0 2987.500 V3014"/><path d="M733.2 2987.500 V3014"/><path d="M737.4 2987.500 V3014"/><path d="M741.6 2987.500 V3014"/><path d="M745.8 2987.500 V3014"/><path d="M750.0 2987.500 V3014"/><path d="M754.2 2987.500 V3014"/><path d="M758.4 2987.500 V3014"/><path d="M762.6 2987.500 V3014"/><path d="M766.8 2987.500 V3014"/><path d="M771.0 2987.500 V3014"/><path d="M775.2 2987.500 V3014"/><path d="M779.4 2987.500 V3014"/><path d="M783.6 2987.500 V3014"/><path d="M787.8 2987.500 V3014"/><path d="M792.0 2987.500 V3014"/><path d="M796.2 2987.500 V3014"/><path d="M800.4 2987.500 V3014"/><path d="M804.6 2987.500 V3014"/><path d="M808.8 2987.500 V3014"/><path d="M813.0 2987.500 V3014"/><path d="M817.2 2987.500 V3014"/><path d="M821.4 2987.500 V3014"/><path d="M825.6 2987.500 V3014"/><path d="M829.8 2987.500 V3014"/></g>
<path d="M772 2985 V3014" stroke="#e8502a" stroke-width="1"/>
<text x="706.5" y="2987.0" font-size="3.2" fill="#fff" text-anchor="end" font-weight="700" letter-spacing="0" >100</text>
<text x="706.5" y="2992.5" font-size="3.2" fill="#fff" text-anchor="end" font-weight="700" letter-spacing="0" >80</text>
<text x="706.5" y="2998.0" font-size="3.2" fill="#fff" text-anchor="end" font-weight="700" letter-spacing="0" >60</text>
<text x="706.5" y="3003.5" font-size="3.2" fill="#fff" text-anchor="end" font-weight="700" letter-spacing="0" >40</text>
<text x="706.5" y="3009.0" font-size="3.2" fill="#fff" text-anchor="end" font-weight="700" letter-spacing="0" >20</text>
<text x="706.5" y="3014.5" font-size="3.2" fill="#fff" text-anchor="end" font-weight="700" letter-spacing="0" >0</text>
<text x="708.5" y="3019.5" font-size="3.3" fill="#fff" text-anchor="middle" font-weight="700" letter-spacing="0" >08:18</text>
<text x="722.5" y="3019.5" font-size="3.3" fill="#fff" text-anchor="middle" font-weight="700" letter-spacing="0" >08:31</text>
<text x="736.5" y="3019.5" font-size="3.3" fill="#fff" text-anchor="middle" font-weight="700" letter-spacing="0" >08:44</text>
<text x="750.5" y="3019.5" font-size="3.3" fill="#fff" text-anchor="middle" font-weight="700" letter-spacing="0" >08:57</text>
<text x="764.5" y="3019.5" font-size="3.3" fill="#fff" text-anchor="middle" font-weight="700" letter-spacing="0" >09:10</text>
<text x="778.5" y="3019.5" font-size="3.3" fill="#fff" text-anchor="middle" font-weight="700" letter-spacing="0" >09:23</text>
<text x="792.5" y="3019.5" font-size="3.3" fill="#fff" text-anchor="middle" font-weight="700" letter-spacing="0" >09:36</text>
<text x="806.5" y="3019.5" font-size="3.3" fill="#fff" text-anchor="middle" font-weight="700" letter-spacing="0" >09:49</text>
<text x="820.5" y="3019.5" font-size="3.3" fill="#fff" text-anchor="middle" font-weight="700" letter-spacing="0" >10:02</text>
<text x="834.5" y="3019.5" font-size="3.3" fill="#fff" text-anchor="middle" font-weight="700" letter-spacing="0" >10:15</text>
<rect x="339" y="3278.5" width="16.500" height="15.500" fill="#22303a" opacity="0.92"/>
<rect x="339" y="3295.4" width="16.500" height="15.500" fill="#22303a" opacity="0.92"/>
<rect x="339" y="3312.3" width="16.500" height="15.500" fill="#22303a" opacity="0.92"/>
<rect x="339" y="3329.2" width="16.500" height="15.500" fill="#22303a" opacity="0.92"/>
<rect x="339" y="3346.1" width="16.500" height="15.500" fill="#22303a" opacity="0.92"/>
<rect x="339" y="3363.0" width="16.500" height="15.500" fill="#fff" opacity="1"/>
<text x="347.2" y="3288.6" font-size="6" fill="#e6eaee" text-anchor="middle" font-weight="700" letter-spacing="0" >P</text>
<text x="347.2" y="3305.5" font-size="6" fill="#e6eaee" text-anchor="middle" font-weight="700" letter-spacing="0" >▙</text>
<text x="347.2" y="3322.4" font-size="6" fill="#e6eaee" text-anchor="middle" font-weight="700" letter-spacing="0" >◗</text>
<text x="347.2" y="3339.2999999999997" font-size="6" fill="#e6eaee" text-anchor="middle" font-weight="700" letter-spacing="0" >▣</text>
<text x="347.2" y="3356.2" font-size="6" fill="#e6eaee" text-anchor="middle" font-weight="700" letter-spacing="0" >▬</text>
<path d="M344 3368.500 h6.500 m-6.500 2 h6.500 m-6.500 2 h6.500" stroke="#777" stroke-width="0.8"/>
<rect x="208" y="2952.2" width="21.5" height="427.8" fill="#051230"/><rect x="208" y="2952.2" width="21.5" height="26.6" fill="#2d63b5"/><rect x="208" y="2982.2" width="21.5" height="26.6" fill="#0f2a50"/><rect x="208" y="3012.2" width="21.5" height="26.6" fill="#0f2a50"/><rect x="208" y="3042.2" width="21.5" height="26.6" fill="#0f2a50"/><rect x="208" y="3072.2" width="21.5" height="26.6" fill="#0f2a50"/><rect x="208" y="3102.2" width="21.5" height="26.6" fill="#0f2a50"/><rect x="208" y="3132.2" width="21.5" height="26.6" fill="#0f2a50"/><g transform="translate(218.75 2964.3) scale(0.9)"><path d="M-5.500 -0.500 q0.500 -3 3.500 -2.500 q1.500 -2.500 4.500 -1.200 q3 -0.300 2.700 2.700 q0.800 2.800 -1.700 3.600 q-1 2.300 -4 1.800 q-2 0.600 -3 -1.300 q-2.300 -0.600 -2 -3.100 z" fill="#fff"/><circle cx="0.500" cy="-1.500" r="1.100" fill="#2d63b5"/></g><g transform="translate(218.75 2994.3) scale(0.9)"><path d="M-3.500 -3.200 H2.800 a1.900 1.900 0 0 1 0 3.800 H-2.800 a1.900 1.900 0 0 0 0 3.800 H3.500" fill="none" stroke="#d3d9e3" stroke-width="1.300"/><path d="M-3 -5 l-2.500 1.800 l2.500 1.800 z M3 2.600 l2.500 1.800 l-2.500 1.800 z" fill="#d3d9e3"/></g><g transform="translate(218.75 3024.3) scale(0.9)"><ellipse cx="0" cy="0.800" rx="2.900" ry="3.700" fill="#d3d9e3"/><path d="M-2.200 -3 a2.200 2 0 0 1 4.400 0 z" fill="#d3d9e3"/><path d="M-5 -3.500 l2.500 2 M5 -3.500 l-2.500 2 M-5.300 1 h2.500 M5.300 1 h-2.500 M-5 5 l2.500 -2 M5 5 l-2.500 -2" stroke="#d3d9e3" stroke-width="0.900" fill="none"/><path d="M0 -1.500 v5.500" stroke="#0f2a50" stroke-width="0.700"/></g><g transform="translate(218.75 3054.3) scale(0.9)"><circle cx="-0.800" cy="-4.600" r="1.400" fill="#d3d9e3"/><path d="M-4.800 -1.600 l1.200 -1.300 l2.400 -0.400 l1.700 0.600 l1.100 3.700 l-0.900 0.700 l-1.300 -1.800 l-0.400 1.500 l1.700 1.600 l-0.800 2.800 h-1.400 l0.600 -2.300 l-1.700 -1.500 l-1.100 3.800 h-1.800 l1.600 -5.100 z" fill="#d3d9e3"/><path d="M0.500 5.400 l3 -4.600 l2.800 4.600 z" fill="#d3d9e3"/></g><g transform="translate(218.75 3084.3) scale(0.9)"><rect x="-4.300" y="-4" width="8.600" height="9.400" rx="0.800" fill="#d3d9e3"/><rect x="-1.800" y="-5.600" width="3.600" height="2.600" rx="0.800" fill="#d3d9e3"/><path d="M-2.300 0.700 l1.600 1.700 l3 -3.200" stroke="#0f2a50" stroke-width="1.200" fill="none"/></g><g transform="translate(218.75 3114.3) scale(0.9)"><rect x="-4.200" y="-5.200" width="8.400" height="10.400" rx="0.600" fill="#d3d9e3"/><path d="M-2.400 -2.800 h4.800 M-2.400 -0.600 h3 M-2.400 1.600 h2 M0.800 2.600 h2 M-2.400 3.500 h1" stroke="#0f2a50" stroke-width="0.900" fill="none"/></g><g transform="translate(218.75 3144.3) scale(0.9)"><path d="M-4.600 -5 v9.600 h9.600" stroke="#d3d9e3" stroke-width="1" fill="none"/><path d="M-2.400 -0.500 v4.300 M0.300 -3 v6.800 M3 0.800 v3" stroke="#d3d9e3" stroke-width="1.700" fill="none"/></g><g transform="translate(218.75 3344.5)"><path d="M-3.800 -2.200 H2 a2.600 2.600 0 0 1 0 5.200 H-3.800" fill="none" stroke="#d3d9e3" stroke-width="1.200"/><path d="M-2.800 -4.400 l-2.800 2.200 l2.800 2.200 z" fill="#d3d9e3"/></g><g transform="translate(218.75 3368.5)"><path d="M-4.600 -3.200 h9.200 M-4.600 0 h5.600 M-4.600 3.200 h9.200" stroke="#d3d9e3" stroke-width="1.200" fill="none"/><path d="M2.500 -1.700 l2.600 1.700 l-2.600 1.700 z" fill="#d3d9e3"/></g>
<rect x="229.500" y="2952.500" width="105.500" height="427.500" fill="#242429"/>
<rect x="229.500" y="2952.500" width="105.500" height="12.500" fill="#2f323b"/>
<text x="233" y="2961.3" font-size="5.2" fill="#3fb3d3" text-anchor="start" font-weight="400" letter-spacing="0" >招商中铁-全兴高速</text>
<path d="M282.50 2986.00 A23 23 0 0 1 300.62 2994.84" fill="none" stroke="#2fb8dc" stroke-width="6"/>
<path d="M300.62 2994.84 A23 23 0 1 1 259.72 3005.80" fill="none" stroke="#b5dc22" stroke-width="6"/>
<path d="M259.72 3005.80 A23 23 0 0 1 282.50 2986.00" fill="none" stroke="#4fd68e" stroke-width="6"/>
<text x="282.5" y="3006.5" font-size="4.6" fill="#8a8d93" text-anchor="middle" font-weight="400" letter-spacing="0" >总病害</text>
<text x="282.5" y="3013" font-size="5.2" fill="#8a8d93" text-anchor="middle" font-weight="400" letter-spacing="0" >83</text>
<g fill="none" stroke-width="0.5"><path d="M295 2988 L304 2981 H318" stroke="#2f8aa0"/><path d="M304 2993 L312 2996 H324" stroke="#f5850f"/><path d="M262 2994 L258 2988 H246" stroke="#4fd68e"/><path d="M292 3031 L293 3040 H306" stroke="#b5dc22"/></g>
<text x="306" y="2986" font-size="3.8" fill="#2fb8dc" text-anchor="start" font-weight="400" letter-spacing="0" >已完成</text>
<text x="304" y="2991" font-size="3.8" fill="#2fb8dc" text-anchor="start" font-weight="400" letter-spacing="0" >14.46%</text>
<text x="316" y="2990.5" font-size="3.8" fill="#f5850f" text-anchor="start" font-weight="400" letter-spacing="0" >待派发</text>
<text x="316" y="2995.5" font-size="3.8" fill="#f5850f" text-anchor="start" font-weight="400" letter-spacing="0" >0%</text>
<text x="246" y="2981.5" font-size="3.8" fill="#4fd68e" text-anchor="start" font-weight="400" letter-spacing="0" >待验收</text>
<text x="245" y="2986.5" font-size="3.8" fill="#4fd68e" text-anchor="start" font-weight="400" letter-spacing="0" >22.89%</text>
<text x="291" y="3038.5" font-size="3.8" fill="#b5dc22" text-anchor="start" font-weight="400" letter-spacing="0" >施工中</text>
<text x="290" y="3043.5" font-size="3.8" fill="#b5dc22" text-anchor="start" font-weight="400" letter-spacing="0" >62.65%</text>
<text x="241" y="3055.3" font-size="7.8" fill="#3fa9c9" text-anchor="middle" font-weight="400" letter-spacing="0" >12</text>
<text x="241" y="3064.8" font-size="4.4" fill="#3fa9c9" text-anchor="middle" font-weight="700" letter-spacing="0" >已完成</text>
<text x="266.5" y="3055.3" font-size="7.8" fill="#f5850f" text-anchor="middle" font-weight="400" letter-spacing="0" >0</text>
<text x="266.5" y="3064.8" font-size="4.4" fill="#f5850f" text-anchor="middle" font-weight="700" letter-spacing="0" >待派发</text>
<text x="292.5" y="3055.3" font-size="7.8" fill="#c9e23a" text-anchor="middle" font-weight="700" letter-spacing="0" >52</text>
<text x="292.5" y="3064.8" font-size="4.4" fill="#c9e23a" text-anchor="middle" font-weight="700" letter-spacing="0" >施工中</text>
<text x="318" y="3055.3" font-size="7.8" fill="#5fe09a" text-anchor="middle" font-weight="700" letter-spacing="0" >19</text>
<text x="318" y="3064.8" font-size="4.4" fill="#5fe09a" text-anchor="middle" font-weight="700" letter-spacing="0" >待验收</text>
<rect x="229.500" y="3073.500" width="105.500" height="15" fill="#2f323b"/>
<circle cx="237" cy="3081" r="6" fill="#2b5fc0" stroke="#23252b" stroke-width="1"/><rect x="235" y="3078.500" width="4" height="4.500" rx="1.300" fill="#fff"/>
<circle cx="255" cy="3081" r="6" fill="#e8202a" stroke="#23252b" stroke-width="1"/><rect x="253" y="3078.500" width="4" height="4.500" rx="1.300" fill="#fff"/>
<circle cx="272.5" cy="3081" r="6" fill="#3aa655" stroke="#23252b" stroke-width="1"/><rect x="270.5" y="3078.500" width="4" height="4.500" rx="1.300" fill="#fff"/>
<rect x="316" y="3076.800" width="16" height="8.500" rx="1" fill="#23242a"/>
<text x="324" y="3083.3" font-size="4.4" fill="#fff" text-anchor="middle" font-weight="700" letter-spacing="0" >全部</text>
<rect x="253.500" y="3090" width="75" height="281.500" fill="none" stroke="#3a8092" stroke-width="0.9"/>
<rect x="253.500" y="3104.500" width="75" height="70" fill="#3463ad"/>
<text x="291" y="3140.5" font-size="4" fill="#fff" text-anchor="middle" font-weight="400" letter-spacing="0" >1</text>
<rect x="253.500" y="3287.500" width="75" height="70.500" fill="#4ba66f"/>
<text x="291" y="3324" font-size="4" fill="#fff" text-anchor="middle" font-weight="400" letter-spacing="0" >1</text>
<text x="251" y="3231.3" font-size="3.8" fill="#fff" text-anchor="end" font-weight="400" letter-spacing="0" >全兴高速</text>
<circle cx="253.500" cy="3230" r="1.500" fill="#f08a8a"/>
<text x="253.5" y="3377" font-size="3.8" fill="#3fb3d3" text-anchor="middle" font-weight="400" letter-spacing="0" >0</text>
<text x="328.5" y="3377" font-size="3.8" fill="#3fb3d3" text-anchor="middle" font-weight="400" letter-spacing="0" >1</text>
<rect x="844" y="2952.500" width="213" height="427.500" fill="#25252a"/>
<rect x="844" y="2952.500" width="213" height="12.500" fill="#2e3039"/>
<text x="852.0" y="2960.8" font-size="4.3" fill="#fff" text-anchor="middle" font-weight="400" letter-spacing="0" >当日</text>
<path d="M859.5 2952.500 V2965" stroke="#23252b" stroke-width="0.5"/>
<text x="867.1" y="2960.8" font-size="4.3" fill="#fff" text-anchor="middle" font-weight="400" letter-spacing="0" >昨日</text>
<path d="M874.6 2952.500 V2965" stroke="#23252b" stroke-width="0.5"/>
<text x="882.2" y="2960.8" font-size="4.3" fill="#fff" text-anchor="middle" font-weight="400" letter-spacing="0" >本月</text>
<path d="M889.7 2952.500 V2965" stroke="#23252b" stroke-width="0.5"/>
<text x="897.3" y="2960.8" font-size="4.3" fill="#3fb3d3" text-anchor="middle" font-weight="400" letter-spacing="0" >本年</text>
<path d="M904.8 2952.500 V2965" stroke="#23252b" stroke-width="0.5"/>
<text x="912.4" y="2960.8" font-size="4.3" fill="#fff" text-anchor="middle" font-weight="400" letter-spacing="0" >去年</text>
<path d="M919.9 2952.500 V2965" stroke="#23252b" stroke-width="0.5"/>
<circle cx="980" cy="2961" r="1.600" fill="#f52525"/>
<text x="983" y="2962.7" font-size="4.4" fill="#f52525" text-anchor="start" font-weight="400" letter-spacing="0" >病害 85</text>
<circle cx="1002.500" cy="2961" r="1.600" fill="#2f62b5"/>
<text x="1005.5" y="2962.7" font-size="4.4" fill="#2f62b5" text-anchor="start" font-weight="400" letter-spacing="0" >已派 114</text>
<circle cx="1027.500" cy="2961" r="1.600" fill="#3aa655"/>
<text x="1030.5" y="2962.7" font-size="4.2" fill="#3aa655" text-anchor="start" font-weight="400" letter-spacing="0" >在架病害 0</text>
<g stroke="#2b7580" stroke-width="0.5" fill="none"><rect x="858" y="2972.5" width="195.5" height="33.0"/><path d="M874.3 2972.5 V3005.5"/><path d="M890.6 2972.5 V3005.5"/><path d="M906.9 2972.5 V3005.5"/><path d="M923.2 2972.5 V3005.5"/><path d="M939.5 2972.5 V3005.5"/><path d="M955.8 2972.5 V3005.5"/><path d="M972.0 2972.5 V3005.5"/><path d="M988.3 2972.5 V3005.5"/><path d="M1004.6 2972.5 V3005.5"/><path d="M1020.9 2972.5 V3005.5"/><path d="M1037.2 2972.5 V3005.5"/><path d="M858 2978.0 H1053.5"/><path d="M858 2983.5 H1053.5"/><path d="M858 2989.0 H1053.5"/><path d="M858 2994.5 H1053.5"/><path d="M858 3000.0 H1053.5"/></g>
<rect x="973.500" y="2978.500" width="13.500" height="14" fill="#2f62b5"/><rect x="973.500" y="2992.500" width="13.500" height="13" fill="#f52525"/>
<rect x="989.500" y="2978.500" width="13.500" height="17.500" fill="#2f62b5"/><rect x="989.500" y="2996" width="13.500" height="9.500" fill="#f52525"/>
<text x="866.1458333333334" y="3010.5" font-size="3.2" fill="#3fb3d3" text-anchor="middle" font-weight="400" letter-spacing="0" >01</text>
<text x="882.4375" y="3010.5" font-size="3.2" fill="#3fb3d3" text-anchor="middle" font-weight="400" letter-spacing="0" >02</text>
<text x="898.7291666666666" y="3010.5" font-size="3.2" fill="#3fb3d3" text-anchor="middle" font-weight="400" letter-spacing="0" >03</text>
<text x="915.0208333333334" y="3010.5" font-size="3.2" fill="#3fb3d3" text-anchor="middle" font-weight="400" letter-spacing="0" >04</text>
<text x="931.3125" y="3010.5" font-size="3.2" fill="#3fb3d3" text-anchor="middle" font-weight="400" letter-spacing="0" >05</text>
<text x="947.6041666666666" y="3010.5" font-size="3.2" fill="#3fb3d3" text-anchor="middle" font-weight="400" letter-spacing="0" >06</text>
<text x="963.8958333333334" y="3010.5" font-size="3.2" fill="#3fb3d3" text-anchor="middle" font-weight="400" letter-spacing="0" >07</text>
<text x="980.1875" y="3010.5" font-size="3.2" fill="#3fb3d3" text-anchor="middle" font-weight="400" letter-spacing="0" >08</text>
<text x="996.4791666666666" y="3010.5" font-size="3.2" fill="#3fb3d3" text-anchor="middle" font-weight="400" letter-spacing="0" >09</text>
<text x="1012.7708333333334" y="3010.5" font-size="3.2" fill="#3fb3d3" text-anchor="middle" font-weight="400" letter-spacing="0" >10</text>
<text x="1029.0625" y="3010.5" font-size="3.2" fill="#3fb3d3" text-anchor="middle" font-weight="400" letter-spacing="0" >11</text>
<text x="1045.3541666666667" y="3010.5" font-size="3.2" fill="#3fb3d3" text-anchor="middle" font-weight="400" letter-spacing="0" >12</text>
<text x="856" y="2973.8" font-size="3" fill="#3fb3d3" text-anchor="end" font-weight="400" letter-spacing="0" >120</text>
<text x="856" y="2979.3" font-size="3" fill="#3fb3d3" text-anchor="end" font-weight="400" letter-spacing="0" >100</text>
<text x="856" y="2984.8" font-size="3" fill="#3fb3d3" text-anchor="end" font-weight="400" letter-spacing="0" >80</text>
<text x="856" y="2990.3" font-size="3" fill="#3fb3d3" text-anchor="end" font-weight="400" letter-spacing="0" >60</text>
<text x="856" y="2995.8" font-size="3" fill="#3fb3d3" text-anchor="end" font-weight="400" letter-spacing="0" >40</text>
<text x="856" y="3001.3" font-size="3" fill="#3fb3d3" text-anchor="end" font-weight="400" letter-spacing="0" >20</text>
<text x="856" y="3006.8" font-size="3" fill="#3fb3d3" text-anchor="end" font-weight="400" letter-spacing="0" >0</text>
<rect x="844" y="3016" width="213" height="14" fill="#2e3039"/>
<circle cx="855" cy="3023" r="6" fill="#2b5fc0" stroke="#202228" stroke-width="1"/><rect x="853" y="3020.500" width="4" height="4.500" rx="1.300" fill="#fff"/>
<circle cx="875" cy="3023" r="6" fill="#e8202a" stroke="#202228" stroke-width="1"/><rect x="873" y="3020.500" width="4" height="4.500" rx="1.300" fill="#fff"/>
<circle cx="896.5" cy="3023" r="6" fill="#3aa655" stroke="#202228" stroke-width="1"/><rect x="894.5" y="3020.500" width="4" height="4.500" rx="1.300" fill="#fff"/>
<circle cx="858" cy="3037" r="5.500" fill="#3aa655" stroke="#202228" stroke-width="0.8"/><path d="M855.500 3039.5 l2 -4.500 l3 4.500 z" fill="#fff"/>
<text x="869" y="3035.5" font-size="4.3" fill="#fff" text-anchor="start" font-weight="400" letter-spacing="0" >10:06</text>
<text x="886" y="3035.5" font-size="4.1" fill="#fff" text-anchor="start" font-weight="700" letter-spacing="0" >招商中铁-全兴高速，路域园区在对养护任务20200902-1施工总结。病害地点G59 K2205</text>
<text x="886" y="3041.8" font-size="4.1" fill="#fff" text-anchor="start" font-weight="700" letter-spacing="0" >+970(兴安方向)，病害类型：防撞护栏板损坏</text>
<path d="M844 3045.5 H1056" stroke="#2b6f7c" stroke-width="0.5"/>
<circle cx="858" cy="3055" r="5.500" fill="#3aa655" stroke="#202228" stroke-width="0.8"/><path d="M855.500 3057.5 l2 -4.500 l3 4.500 z" fill="#fff"/>
<text x="869" y="3053.5" font-size="4.3" fill="#fff" text-anchor="start" font-weight="400" letter-spacing="0" >09:53</text>
<text x="886" y="3053.5" font-size="4.1" fill="#fff" text-anchor="start" font-weight="700" letter-spacing="0" >招商中铁-全兴高速，路域园区在对养护任务20200902-1施工总结。病害地点G59 K2205</text>
<text x="886" y="3059.8" font-size="4.1" fill="#fff" text-anchor="start" font-weight="700" letter-spacing="0" >+970(兴安方向)，病害类型：防撞护栏板损坏</text>
<path d="M844 3063.5 H1056" stroke="#2b6f7c" stroke-width="0.5"/>
<circle cx="858" cy="3073" r="5.500" fill="#3aa655" stroke="#202228" stroke-width="0.8"/><path d="M855.500 3075.5 l2 -4.500 l3 4.500 z" fill="#fff"/>
<text x="869" y="3071.5" font-size="4.3" fill="#fff" text-anchor="start" font-weight="400" letter-spacing="0" >09:52</text>
<text x="886" y="3071.5" font-size="4.1" fill="#fff" text-anchor="start" font-weight="700" letter-spacing="0" >招商中铁-全兴高速，路域园区在对养护任务20200902-1施工总结。病害地点G59 K2205</text>
<text x="886" y="3077.8" font-size="4.1" fill="#fff" text-anchor="start" font-weight="700" letter-spacing="0" >+970(兴安方向)，病害类型：防撞护栏板损坏</text>
<path d="M844 3081.5 H1056" stroke="#2b6f7c" stroke-width="0.5"/>
<rect x="1054" y="3038" width="2" height="12" fill="#3fb3d3"/>
<rect x="844" y="3081" width="213" height="11.500" fill="#2e323c"/>
<text x="851" y="3089" font-size="4.3" fill="#3fb3d3" text-anchor="start" font-weight="700" letter-spacing="0" >招商中铁-全兴高速G59 K2188+800(全州)</text>
<text x="1049" y="3089" font-size="4.3" fill="#3fb3d3" text-anchor="end" font-weight="700" letter-spacing="0" >2020-09-11 09:18</text>
<path d="M949.500 3092.500 V3379" stroke="#2b6f7c" stroke-width="0.5"/>
<polygon points="865,3097.500 931,3097.500 936,3125 860,3125" fill="#30343c"/>
<g stroke="#4d8f99" stroke-width="0.5" stroke-dasharray="1.2 1.2"><path d="M881 3097.500 L878 3125 M889.500 3097.500 L888 3125 M906 3097.500 L907 3125 M914 3097.500 L917 3125"/></g><path d="M872 3097.500 L868.500 3125 M923 3097.500 L926.500 3125" stroke="#4d8f99" stroke-width="0.6"/><path d="M897.500 3097.500 L897 3125" stroke="#e8752a" stroke-width="0.8"/>
<path d="M890.500 3109 L886.300 3103.500 A5 5 0 1 1 894.700 3103.500 Z" fill="#f2545b"/>
<circle cx="956.500" cy="3102" r="4.600" fill="#17191d"/><path d="M956.500 3099.300 v2.500 m-2.500 2.500 v-1.500 h5 v1.500 m-2.500 -1.500 v1.500" stroke="#fff" stroke-width="0.7" fill="none"/><circle cx="956.500" cy="3099.300" r="0.800" fill="#fff"/>
<rect x="951" y="3112.5" width="105" height="7" fill="#3a3c42"/><circle cx="956" cy="3116.0" r="1.500" fill="#e8202a"/>
<text x="964" y="3117.6" font-size="3.9" fill="#3fb3d3" text-anchor="start" font-weight="400" letter-spacing="0" >任务派发</text>
<text x="992" y="3117.6" font-size="3.9" fill="#3fb3d3" text-anchor="start" font-weight="400" letter-spacing="0" >11:50</text>
<rect x="951" y="3120.3" width="105" height="7" fill="#3a3c42"/><circle cx="956" cy="3123.8" r="1.500" fill="#e8202a"/>
<text x="964" y="3125.4" font-size="3.9" fill="#3fb3d3" text-anchor="start" font-weight="400" letter-spacing="0" >任务申请</text>
<text x="992" y="3125.4" font-size="3.9" fill="#3fb3d3" text-anchor="start" font-weight="400" letter-spacing="0" >11:51</text>
<rect x="951" y="3128.1" width="105" height="7" fill="#3a3c42"/><circle cx="956" cy="3131.6" r="1.500" fill="#e8202a"/>
<text x="964" y="3133.2" font-size="3.9" fill="#3fb3d3" text-anchor="start" font-weight="400" letter-spacing="0" >任务验收</text>
<text x="992" y="3133.2" font-size="3.9" fill="#3fb3d3" text-anchor="start" font-weight="400" letter-spacing="0" >15:24</text>
<text x="847.5" y="3133.6" font-size="4.1" fill="#2fa3c4" text-anchor="start" font-weight="400" letter-spacing="0" >上报时间:</text>
<text x="869" y="3133.6" font-size="4.2" fill="#fff" text-anchor="start" font-weight="700" letter-spacing="0" >2020-09-11</text>
<text x="847.5" y="3142.95" font-size="4.1" fill="#2fa3c4" text-anchor="start" font-weight="400" letter-spacing="0" >车　　辆:</text>
<text x="869" y="3142.95" font-size="4.2" fill="#fff" text-anchor="start" font-weight="700" letter-spacing="0" >桂AQX800</text>
<text x="847.5" y="3152.2999999999997" font-size="4.1" fill="#2fa3c4" text-anchor="start" font-weight="400" letter-spacing="0" >上报人员:</text>
<text x="869" y="3152.2999999999997" font-size="4.2" fill="#fff" text-anchor="start" font-weight="700" letter-spacing="0" >何留宜</text>
<text x="847.5" y="3161.65" font-size="4.1" fill="#2fa3c4" text-anchor="start" font-weight="400" letter-spacing="0" >病害类型:</text>
<text x="869" y="3161.65" font-size="4.2" fill="#fff" text-anchor="start" font-weight="700" letter-spacing="0" >路面-水泥混凝土路面-裂纹</text>
<text x="847.5" y="3171.0" font-size="4.1" fill="#2fa3c4" text-anchor="start" font-weight="400" letter-spacing="0" >病害数量:</text>
<text x="869" y="3171.0" font-size="4.2" fill="#fff" text-anchor="start" font-weight="700" letter-spacing="0" >1块判处的方法未记录</text>
<text x="847.5" y="3180.35" font-size="4.1" fill="#2fa3c4" text-anchor="start" font-weight="400" letter-spacing="0" >病害位置:</text>
<text x="869" y="3180.35" font-size="4.2" fill="#fff" text-anchor="start" font-weight="700" letter-spacing="0" >车道一</text>
<text x="847.5" y="3189.7" font-size="4.1" fill="#2fa3c4" text-anchor="start" font-weight="400" letter-spacing="0" >处置情况:</text>
<text x="869" y="3189.7" font-size="4.2" fill="#fff" text-anchor="start" font-weight="700" letter-spacing="0" >立即处置</text>
<text x="898.5" y="3180.4" font-size="4.1" fill="#2fa3c4" text-anchor="start" font-weight="400" letter-spacing="0" >病害层别:</text>
<text x="920" y="3180.4" font-size="4.2" fill="#fff" text-anchor="start" font-weight="700" letter-spacing="0" >无</text>
<text x="898.5" y="3189.7" font-size="4.1" fill="#2fa3c4" text-anchor="start" font-weight="400" letter-spacing="0" >病害原因:</text>
<text x="920" y="3189.7" font-size="4.2" fill="#fff" text-anchor="start" font-weight="700" letter-spacing="0" >自然损害</text>
<text x="847.5" y="3199" font-size="4.1" fill="#2fa3c4" text-anchor="start" font-weight="400" letter-spacing="0" >病害描述:</text>
<text x="847.5" y="3204.8" font-size="4.1" fill="#fff" text-anchor="start" font-weight="700" letter-spacing="0" >路面积水，K2188-810-830右幅，需清理侧缝式水沟</text>
<text x="847.5" y="3210.6000000000004" font-size="4.1" fill="#fff" text-anchor="start" font-weight="700" letter-spacing="0" >50m，在路面积水处中央分隔带内新增积水井和排水</text>
<text x="847.5" y="3216.4" font-size="4.1" fill="#fff" text-anchor="start" font-weight="700" letter-spacing="0" >沟，将水引至左幅侧缝式水沟内。</text>
<rect x="848" y="3220" width="45.500" height="33.500" fill="#8a8f86"/><polygon points="848,3220 872,3220 848,3246" fill="#5a6a48"/><polygon points="862,3253.500 893.500,3226 893.500,3253.500" fill="#9a9c9d"/><polygon points="860,3220 893.500,3220 893.500,3228 858,3253.500 850,3253.500" fill="#c9cbcc"/>
</svg>

</body>
</html>
